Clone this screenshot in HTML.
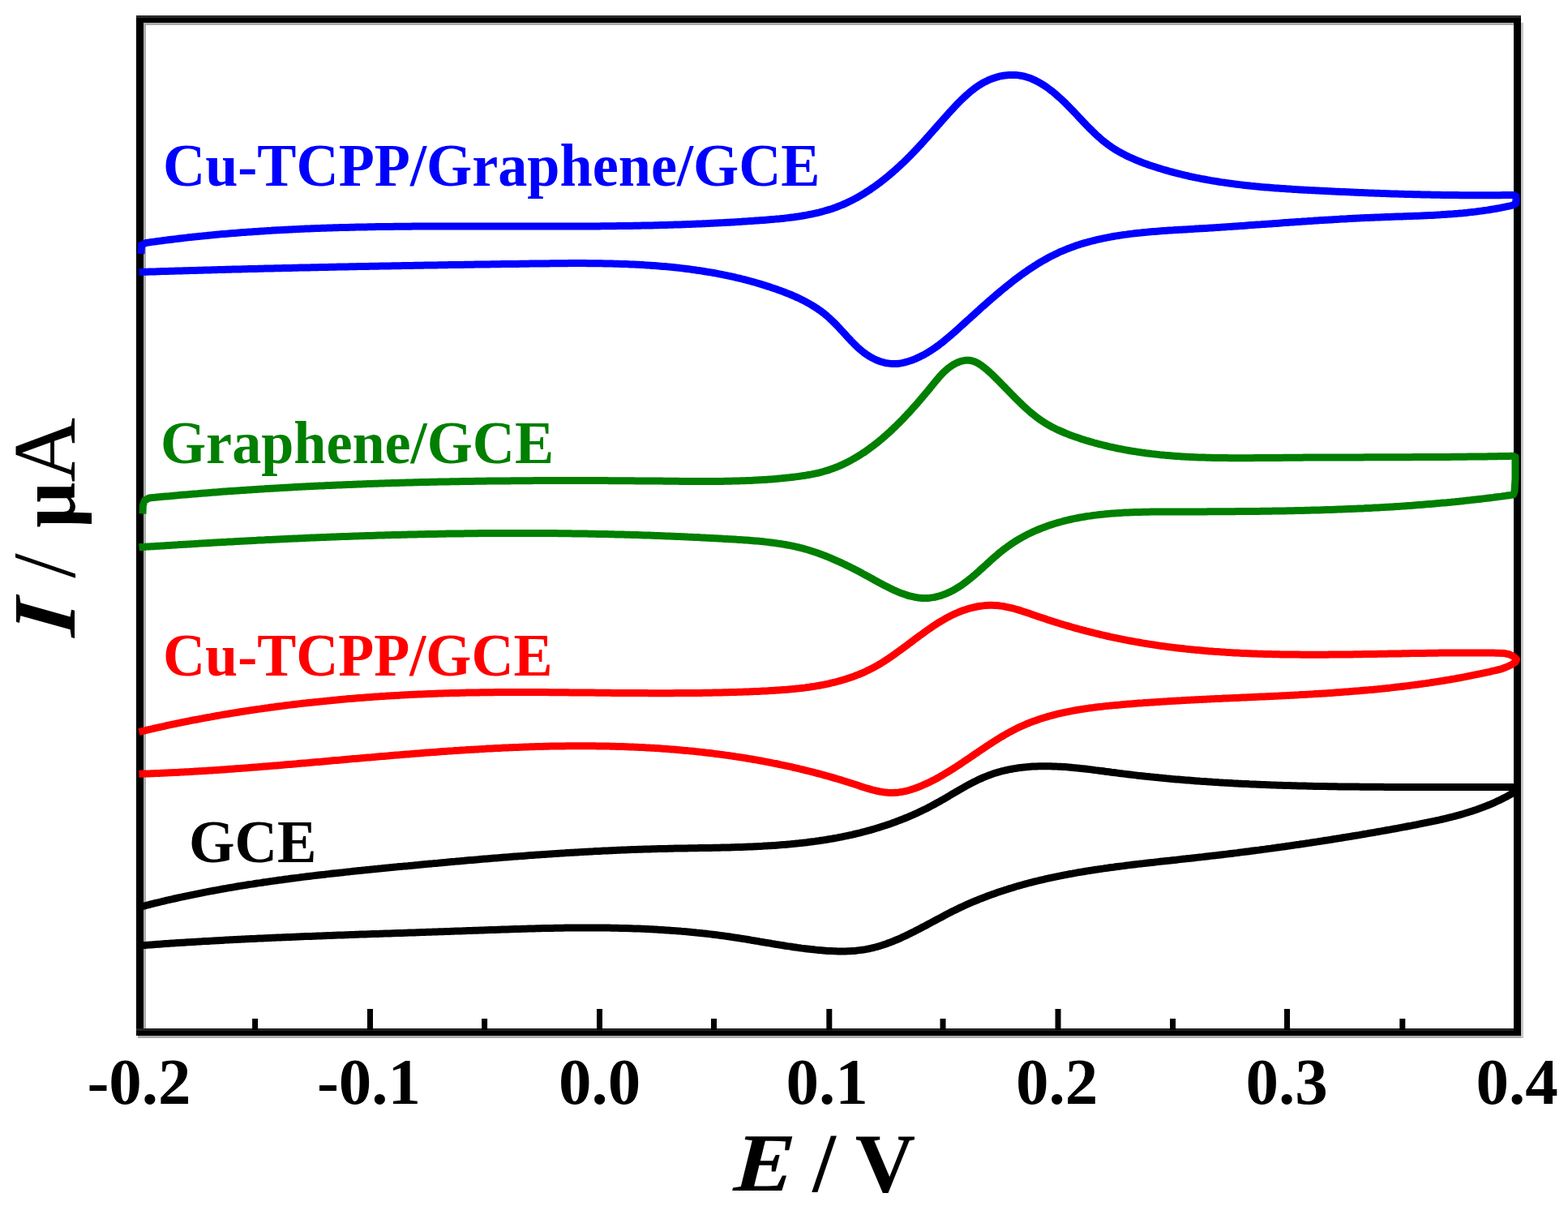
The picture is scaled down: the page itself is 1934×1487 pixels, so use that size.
<!DOCTYPE html>
<html><head><meta charset="utf-8"><title>Cyclic voltammograms</title>
<style>
html,body{margin:0;padding:0;background:#fff;}
body{width:1934px;height:1487px;overflow:hidden;}
svg{display:block;}
text{font-family:'Liberation Serif', 'Times New Roman', serif;font-weight:bold;}
</style></head>
<body>
<svg width="1934" height="1487" viewBox="0 0 1934 1487">
<rect x="0" y="0" width="1934" height="1487" fill="#ffffff"/>
<rect x="177" y="28" width="1690" height="3" fill="#ababab"/>
<rect x="177" y="28" width="3" height="1240" fill="#ababab"/>
<rect x="1876" y="28" width="3" height="1252" fill="#c8c8c8"/>
<rect x="170" y="1277" width="1706" height="3" fill="#acacac"/>
<rect x="172.5" y="23.5" width="1699" height="1249" fill="none" stroke="#000" stroke-width="9"/>
<rect x="168" y="19" width="1708" height="3" fill="#2a2a2a"/>
<rect x="168" y="1268" width="1699" height="3" fill="#222"/>
<g stroke="#000" stroke-width="7">
<line x1="456.5" y1="1244" x2="456.5" y2="1270"/><line x1="739.5" y1="1244" x2="739.5" y2="1270"/><line x1="1022.8" y1="1244" x2="1022.8" y2="1270"/><line x1="1305.0" y1="1244" x2="1305.0" y2="1270"/><line x1="1587.5" y1="1244" x2="1587.5" y2="1270"/><line x1="314.6" y1="1256" x2="314.6" y2="1270"/><line x1="597.6" y1="1256" x2="597.6" y2="1270"/><line x1="880.5" y1="1256" x2="880.5" y2="1270"/><line x1="1163.0" y1="1256" x2="1163.0" y2="1270"/><line x1="1446.5" y1="1256" x2="1446.5" y2="1270"/><line x1="1729.8" y1="1256" x2="1729.8" y2="1270"/>
</g>
<g>
<path d="M174.0,313.0 L174.5,302.0 L180.0,299.5 L182.5,299.1 L185.0,298.8 L187.4,298.4 L189.9,298.1 L192.4,297.8 L194.9,297.4 L197.4,297.1 L199.9,296.8 L202.4,296.4 L204.8,296.1 L207.3,295.8 L209.8,295.5 L212.3,295.2 L214.8,294.9 L217.3,294.6 L219.8,294.3 L222.2,294.0 L224.7,293.7 L227.2,293.4 L229.7,293.1 L232.2,292.8 L234.7,292.6 L237.2,292.3 L239.6,292.0 L242.1,291.8 L244.6,291.5 L247.1,291.2 L249.6,291.0 L252.1,290.7 L254.6,290.5 L257.1,290.2 L259.6,290.0 L262.0,289.8 L264.5,289.5 L267.0,289.3 L269.5,289.1 L272.0,288.8 L274.5,288.6 L277.0,288.4 L279.5,288.2 L282.0,288.0 L284.5,287.8 L286.9,287.6 L289.4,287.4 L291.9,287.2 L294.4,287.0 L296.9,286.8 L299.4,286.6 L301.9,286.4 L304.4,286.2 L306.9,286.0 L309.4,285.9 L311.9,285.7 L314.4,285.5 L316.9,285.4 L319.3,285.2 L321.8,285.0 L324.3,284.9 L326.8,284.7 L329.3,284.6 L331.8,284.4 L334.3,284.3 L336.8,284.1 L339.3,284.0 L341.8,283.8 L344.3,283.7 L346.8,283.6 L349.3,283.4 L351.8,283.3 L354.3,283.2 L356.8,283.0 L359.3,282.9 L361.7,282.8 L364.2,282.7 L366.7,282.6 L369.2,282.4 L371.7,282.3 L374.2,282.2 L376.7,282.1 L379.2,282.0 L381.7,281.9 L384.2,281.8 L386.7,281.7 L389.2,281.6 L391.7,281.5 L394.2,281.4 L396.7,281.3 L399.2,281.3 L401.7,281.2 L404.2,281.1 L406.7,281.0 L409.2,280.9 L411.7,280.8 L414.2,280.8 L416.7,280.7 L419.2,280.6 L421.7,280.6 L424.2,280.5 L426.7,280.4 L429.2,280.4 L431.7,280.3 L434.2,280.2 L436.7,280.2 L439.2,280.1 L441.7,280.1 L444.2,280.0 L446.7,280.0 L449.2,279.9 L451.7,279.9 L454.2,279.8 L456.7,279.8 L459.2,279.7 L461.7,279.7 L464.2,279.6 L466.7,279.6 L469.2,279.6 L471.7,279.5 L474.2,279.5 L476.7,279.5 L479.2,279.4 L481.7,279.4 L484.2,279.4 L486.7,279.3 L489.2,279.3 L491.7,279.3 L494.2,279.3 L496.7,279.2 L499.2,279.2 L501.7,279.2 L504.2,279.2 L506.7,279.2 L509.2,279.1 L511.7,279.1 L514.2,279.1 L516.7,279.1 L519.2,279.1 L521.7,279.1 L524.2,279.1 L526.7,279.0 L529.2,279.0 L531.7,279.0 L534.2,279.0 L536.7,279.0 L539.2,279.0 L541.7,279.0 L544.2,279.0 L546.7,279.0 L549.2,279.0 L551.7,279.0 L554.2,279.0 L556.7,279.0 L559.2,279.0 L561.7,279.0 L564.2,279.0 L566.7,279.0 L569.2,279.0 L571.7,279.0 L574.2,279.0 L576.7,279.0 L579.2,279.0 L581.7,279.0 L584.2,279.0 L586.8,279.0 L589.3,279.0 L591.8,279.0 L594.3,279.0 L596.8,279.0 L599.3,279.0 L601.8,279.0 L604.3,279.0 L606.8,279.0 L609.3,279.0 L611.8,279.0 L614.3,279.0 L616.8,279.0 L619.3,279.0 L621.8,279.0 L624.3,279.0 L626.8,279.1 L629.3,279.1 L631.8,279.1 L634.3,279.1 L636.8,279.1 L639.3,279.1 L641.8,279.1 L644.3,279.1 L646.8,279.1 L649.3,279.1 L651.8,279.1 L654.3,279.1 L656.8,279.1 L659.3,279.1 L661.9,279.1 L664.4,279.1 L666.9,279.1 L669.4,279.1 L671.9,279.1 L674.4,279.1 L676.9,279.1 L679.4,279.1 L681.9,279.1 L684.4,279.1 L686.9,279.1 L689.4,279.1 L691.9,279.1 L694.4,279.1 L696.9,279.1 L699.4,279.1 L701.9,279.1 L704.4,279.1 L706.9,279.1 L709.4,279.0 L711.9,279.0 L714.4,279.0 L716.9,279.0 L719.4,279.0 L721.9,279.0 L724.4,279.0 L726.9,279.0 L729.4,278.9 L731.9,278.9 L734.4,278.9 L737.0,278.9 L739.5,278.9 L742.0,278.8 L744.5,278.8 L747.0,278.8 L749.5,278.8 L752.0,278.7 L754.5,278.7 L757.0,278.7 L759.5,278.7 L762.0,278.6 L764.5,278.6 L767.0,278.6 L769.5,278.5 L772.0,278.5 L774.5,278.4 L777.0,278.4 L779.5,278.4 L782.0,278.3 L784.5,278.3 L787.0,278.2 L789.5,278.2 L792.0,278.1 L794.5,278.1 L797.0,278.0 L799.5,278.0 L802.0,277.9 L804.5,277.9 L807.0,277.8 L809.5,277.7 L812.0,277.7 L814.5,277.6 L817.0,277.5 L819.5,277.5 L822.0,277.4 L824.5,277.3 L827.0,277.3 L829.5,277.2 L832.0,277.1 L834.5,277.0 L837.0,276.9 L839.5,276.9 L842.0,276.8 L844.5,276.7 L847.0,276.6 L849.5,276.5 L852.0,276.4 L854.5,276.3 L857.0,276.2 L859.5,276.1 L862.0,276.0 L864.5,275.9 L867.0,275.8 L869.5,275.7 L872.0,275.6 L874.5,275.4 L877.0,275.3 L879.5,275.2 L882.0,275.1 L884.5,275.0 L887.0,274.8 L889.5,274.7 L892.0,274.6 L894.5,274.4 L897.0,274.3 L899.5,274.2 L902.0,274.0 L904.5,273.9 L907.0,273.7 L909.5,273.6 L912.0,273.4 L914.5,273.3 L917.0,273.1 L919.5,272.9 L922.0,272.8 L924.5,272.6 L927.0,272.4 L929.5,272.3 L932.0,272.1 L934.5,271.9 L937.0,271.7 L939.5,271.5 L942.0,271.4 L944.5,271.2 L947.0,271.0 L949.5,270.8 L952.0,270.6 L954.5,270.4 L956.9,270.1 L959.4,269.9 L961.9,269.7 L964.4,269.4 L966.9,269.2 L969.4,268.9 L971.8,268.6 L974.3,268.3 L976.8,268.0 L979.3,267.7 L981.7,267.3 L984.2,267.0 L986.6,266.6 L989.1,266.2 L991.5,265.8 L994.0,265.4 L996.4,264.9 L998.8,264.4 L1001.3,264.0 L1003.7,263.4 L1006.1,262.9 L1008.5,262.3 L1010.9,261.8 L1013.3,261.1 L1015.7,260.5 L1018.0,259.8 L1020.4,259.1 L1022.8,258.4 L1025.1,257.7 L1027.4,256.9 L1029.8,256.1 L1032.1,255.2 L1034.4,254.3 L1036.7,253.4 L1039.0,252.5 L1041.3,251.5 L1043.6,250.5 L1045.9,249.4 L1048.1,248.3 L1050.4,247.2 L1052.6,246.1 L1054.8,244.9 L1057.0,243.7 L1059.2,242.5 L1061.4,241.2 L1063.6,239.9 L1065.8,238.6 L1067.9,237.2 L1070.0,235.9 L1072.2,234.5 L1074.3,233.0 L1076.4,231.6 L1078.5,230.1 L1080.6,228.6 L1082.6,227.1 L1084.7,225.6 L1086.7,224.1 L1088.7,222.5 L1090.7,220.9 L1092.7,219.3 L1094.7,217.7 L1096.7,216.1 L1098.6,214.4 L1100.5,212.8 L1102.4,211.1 L1104.4,209.4 L1106.2,207.7 L1108.1,206.0 L1110.0,204.3 L1111.8,202.6 L1113.6,200.9 L1115.4,199.2 L1117.2,197.4 L1119.0,195.7 L1120.7,193.9 L1122.5,192.2 L1124.2,190.4 L1125.9,188.7 L1127.6,186.9 L1129.3,185.1 L1131.0,183.3 L1132.7,181.5 L1134.3,179.7 L1136.0,178.0 L1137.6,176.1 L1139.3,174.3 L1140.9,172.5 L1142.5,170.7 L1144.2,168.9 L1145.8,167.1 L1147.4,165.2 L1149.1,163.4 L1150.7,161.6 L1152.3,159.7 L1154.0,157.9 L1155.6,156.0 L1157.2,154.1 L1158.9,152.3 L1160.5,150.4 L1162.2,148.5 L1163.9,146.7 L1165.5,144.8 L1167.2,142.9 L1168.9,141.0 L1170.6,139.1 L1172.4,137.2 L1174.1,135.3 L1175.9,133.4 L1177.6,131.5 L1179.4,129.6 L1181.2,127.7 L1183.0,125.9 L1184.8,124.1 L1186.7,122.2 L1188.6,120.4 L1190.4,118.7 L1192.4,117.0 L1194.3,115.3 L1196.2,113.6 L1198.2,112.0 L1200.2,110.4 L1202.2,108.9 L1204.2,107.4 L1206.3,106.0 L1208.4,104.7 L1210.5,103.4 L1212.6,102.1 L1214.8,101.0 L1217.0,99.9 L1219.2,98.8 L1221.5,97.9 L1223.7,97.0 L1226.0,96.2 L1228.3,95.4 L1230.6,94.8 L1232.9,94.2 L1235.2,93.7 L1237.6,93.3 L1239.9,92.9 L1242.3,92.7 L1244.6,92.5 L1247.0,92.4 L1249.3,92.4 L1251.7,92.5 L1254.0,92.6 L1256.3,92.9 L1258.7,93.2 L1261.0,93.6 L1263.3,94.2 L1265.6,94.8 L1267.8,95.5 L1270.1,96.3 L1272.3,97.1 L1274.5,98.1 L1276.8,99.1 L1278.9,100.2 L1281.1,101.3 L1283.3,102.6 L1285.4,103.9 L1287.5,105.2 L1289.6,106.6 L1291.7,108.0 L1293.7,109.5 L1295.8,111.1 L1297.8,112.6 L1299.8,114.2 L1301.8,115.9 L1303.7,117.6 L1305.6,119.3 L1307.5,121.0 L1309.4,122.7 L1311.3,124.5 L1313.2,126.3 L1315.0,128.1 L1316.8,129.9 L1318.6,131.8 L1320.4,133.6 L1322.2,135.5 L1324.0,137.3 L1325.8,139.2 L1327.5,141.0 L1329.3,142.9 L1331.0,144.8 L1332.8,146.7 L1334.6,148.5 L1336.3,150.4 L1338.1,152.2 L1339.8,154.1 L1341.6,155.9 L1343.4,157.7 L1345.2,159.5 L1347.0,161.3 L1348.8,163.0 L1350.6,164.8 L1352.4,166.5 L1354.3,168.2 L1356.2,169.8 L1358.0,171.5 L1359.9,173.1 L1361.9,174.6 L1363.8,176.2 L1365.8,177.7 L1367.8,179.1 L1369.8,180.6 L1371.8,181.9 L1373.9,183.3 L1376.0,184.6 L1378.1,185.9 L1380.2,187.1 L1382.4,188.3 L1384.6,189.5 L1386.8,190.6 L1389.0,191.8 L1391.2,192.8 L1393.4,193.9 L1395.7,194.9 L1398.0,195.9 L1400.2,196.9 L1402.5,197.9 L1404.8,198.8 L1407.2,199.7 L1409.5,200.6 L1411.8,201.5 L1414.2,202.3 L1416.5,203.2 L1418.9,204.0 L1421.3,204.8 L1423.6,205.5 L1426.0,206.3 L1428.4,207.1 L1430.8,207.8 L1433.1,208.5 L1435.5,209.2 L1437.9,209.9 L1440.3,210.6 L1442.7,211.3 L1445.1,211.9 L1447.5,212.6 L1449.9,213.2 L1452.4,213.8 L1454.8,214.4 L1457.2,215.0 L1459.6,215.6 L1462.0,216.2 L1464.5,216.7 L1466.9,217.3 L1469.3,217.8 L1471.8,218.3 L1474.2,218.9 L1476.7,219.4 L1479.1,219.8 L1481.5,220.3 L1484.0,220.8 L1486.5,221.2 L1488.9,221.7 L1491.4,222.1 L1493.8,222.6 L1496.3,223.0 L1498.8,223.4 L1501.2,223.8 L1503.7,224.2 L1506.2,224.6 L1508.6,224.9 L1511.1,225.3 L1513.6,225.6 L1516.1,226.0 L1518.5,226.3 L1521.0,226.6 L1523.5,227.0 L1526.0,227.3 L1528.5,227.6 L1531.0,227.9 L1533.5,228.2 L1535.9,228.5 L1538.4,228.7 L1540.9,229.0 L1543.4,229.3 L1545.9,229.5 L1548.4,229.8 L1550.9,230.0 L1553.4,230.2 L1555.9,230.5 L1558.4,230.7 L1560.9,230.9 L1563.4,231.1 L1565.9,231.3 L1568.4,231.5 L1570.9,231.7 L1573.4,231.9 L1576.0,232.1 L1578.5,232.3 L1581.0,232.5 L1583.5,232.6 L1586.0,232.8 L1588.5,233.0 L1591.0,233.1 L1593.5,233.3 L1596.0,233.4 L1598.5,233.6 L1601.0,233.7 L1603.5,233.9 L1606.1,234.0 L1608.6,234.2 L1611.1,234.3 L1613.6,234.4 L1616.1,234.6 L1618.6,234.7 L1621.1,234.8 L1623.6,235.0 L1626.1,235.1 L1628.6,235.2 L1631.1,235.3 L1633.6,235.5 L1636.1,235.6 L1638.6,235.7 L1641.2,235.8 L1643.7,235.9 L1646.2,236.1 L1648.7,236.2 L1651.2,236.3 L1653.7,236.4 L1656.2,236.5 L1658.7,236.6 L1661.2,236.7 L1663.7,236.8 L1666.1,237.0 L1668.6,237.1 L1671.1,237.2 L1673.6,237.3 L1676.1,237.4 L1678.6,237.5 L1681.1,237.6 L1683.6,237.7 L1686.1,237.8 L1688.6,237.9 L1691.1,238.0 L1693.6,238.1 L1696.1,238.2 L1698.6,238.2 L1701.1,238.3 L1703.6,238.4 L1706.1,238.5 L1708.5,238.6 L1711.0,238.7 L1713.5,238.8 L1716.0,238.9 L1718.5,238.9 L1721.0,239.0 L1723.5,239.1 L1726.0,239.2 L1728.5,239.2 L1731.0,239.3 L1733.5,239.4 L1735.9,239.5 L1738.4,239.5 L1740.9,239.6 L1743.4,239.7 L1745.9,239.7 L1748.4,239.8 L1750.9,239.8 L1753.4,239.9 L1755.9,240.0 L1758.4,240.0 L1760.9,240.1 L1763.4,240.1 L1765.8,240.2 L1768.3,240.2 L1770.8,240.3 L1773.3,240.3 L1775.8,240.3 L1778.3,240.4 L1780.8,240.4 L1783.3,240.5 L1785.8,240.5 L1788.3,240.5 L1790.8,240.6 L1793.3,240.6 L1795.8,240.6 L1798.3,240.6 L1800.8,240.7 L1803.3,240.7 L1805.8,240.7 L1808.3,240.7 L1810.8,240.7 L1813.3,240.7 L1815.8,240.8 L1818.3,240.8 L1820.8,240.8 L1823.3,240.8 L1825.8,240.8 L1828.3,240.8 L1830.8,240.8 L1833.3,240.8 L1835.8,240.8 L1838.3,240.8 L1840.9,240.7 L1843.4,240.7 L1845.9,240.7 L1848.4,240.7 L1850.9,240.7 L1853.4,240.6 L1855.9,240.6 L1858.4,240.6 L1861.0,240.6 L1863.5,240.5 L1866.0,240.5 L1869.5,241.5 L1870.0,246.0 L1869.5,251.0 L1866.0,253.0 L1863.6,253.6 L1861.2,254.1 L1858.7,254.6 L1856.3,255.1 L1853.9,255.6 L1851.4,256.1 L1849.0,256.6 L1846.6,257.0 L1844.1,257.5 L1841.7,257.9 L1839.2,258.3 L1836.7,258.7 L1834.3,259.1 L1831.8,259.4 L1829.4,259.8 L1826.9,260.1 L1824.4,260.4 L1821.9,260.8 L1819.5,261.1 L1817.0,261.4 L1814.5,261.6 L1812.0,261.9 L1809.5,262.2 L1807.0,262.4 L1804.5,262.7 L1802.1,262.9 L1799.6,263.1 L1797.1,263.4 L1794.6,263.6 L1792.1,263.8 L1789.6,263.9 L1787.1,264.1 L1784.6,264.3 L1782.0,264.5 L1779.5,264.6 L1777.0,264.8 L1774.5,264.9 L1772.0,265.1 L1769.5,265.2 L1767.0,265.4 L1764.5,265.5 L1761.9,265.6 L1759.4,265.7 L1756.9,265.8 L1754.4,265.9 L1751.9,266.1 L1749.4,266.2 L1746.8,266.3 L1744.3,266.3 L1741.8,266.4 L1739.3,266.5 L1736.8,266.6 L1734.3,266.7 L1731.7,266.8 L1729.2,266.9 L1726.7,267.0 L1724.2,267.1 L1721.7,267.1 L1719.2,267.2 L1716.7,267.3 L1714.1,267.4 L1711.6,267.5 L1709.1,267.6 L1706.6,267.7 L1704.1,267.8 L1701.6,267.9 L1699.1,268.0 L1696.6,268.1 L1694.1,268.2 L1691.6,268.3 L1689.1,268.4 L1686.6,268.5 L1684.1,268.6 L1681.6,268.7 L1679.1,268.8 L1676.6,269.0 L1674.1,269.1 L1671.6,269.2 L1669.1,269.3 L1666.6,269.5 L1664.2,269.6 L1661.7,269.7 L1659.2,269.9 L1656.7,270.0 L1654.2,270.1 L1651.7,270.3 L1649.2,270.4 L1646.8,270.6 L1644.3,270.7 L1641.8,270.9 L1639.3,271.0 L1636.8,271.2 L1634.4,271.3 L1631.9,271.5 L1629.4,271.6 L1626.9,271.8 L1624.4,272.0 L1622.0,272.1 L1619.5,272.3 L1617.0,272.4 L1614.5,272.6 L1612.1,272.8 L1609.6,272.9 L1607.1,273.1 L1604.6,273.3 L1602.2,273.4 L1599.7,273.6 L1597.2,273.8 L1594.7,274.0 L1592.3,274.1 L1589.8,274.3 L1587.3,274.5 L1584.8,274.6 L1582.3,274.8 L1579.9,275.0 L1577.4,275.2 L1574.9,275.4 L1572.4,275.5 L1570.0,275.7 L1567.5,275.9 L1565.0,276.1 L1562.5,276.2 L1560.0,276.4 L1557.6,276.6 L1555.1,276.8 L1552.6,276.9 L1550.1,277.1 L1547.6,277.3 L1545.1,277.5 L1542.7,277.6 L1540.2,277.8 L1537.7,278.0 L1535.2,278.2 L1532.7,278.4 L1530.2,278.5 L1527.7,278.7 L1525.2,278.9 L1522.7,279.0 L1520.2,279.2 L1517.7,279.4 L1515.2,279.6 L1512.7,279.7 L1510.2,279.9 L1507.7,280.1 L1505.2,280.2 L1502.7,280.4 L1500.2,280.6 L1497.7,280.7 L1495.2,280.9 L1492.7,281.0 L1490.2,281.2 L1487.7,281.4 L1485.2,281.5 L1482.6,281.7 L1480.1,281.8 L1477.6,282.0 L1475.1,282.1 L1472.6,282.3 L1470.0,282.4 L1467.5,282.6 L1465.0,282.7 L1462.4,282.9 L1459.9,283.0 L1457.4,283.2 L1454.8,283.3 L1452.3,283.5 L1449.8,283.6 L1447.2,283.8 L1444.7,283.9 L1442.2,284.1 L1439.6,284.3 L1437.1,284.5 L1434.6,284.6 L1432.0,284.8 L1429.5,285.0 L1427.0,285.2 L1424.5,285.4 L1421.9,285.6 L1419.4,285.8 L1416.9,286.0 L1414.4,286.3 L1411.9,286.5 L1409.4,286.7 L1406.8,287.0 L1404.3,287.2 L1401.8,287.5 L1399.3,287.8 L1396.8,288.1 L1394.3,288.4 L1391.8,288.7 L1389.4,289.1 L1386.9,289.4 L1384.4,289.7 L1381.9,290.1 L1379.5,290.5 L1377.0,290.9 L1374.5,291.3 L1372.1,291.7 L1369.6,292.2 L1367.2,292.6 L1364.8,293.1 L1362.3,293.6 L1359.9,294.1 L1357.5,294.6 L1355.1,295.1 L1352.7,295.7 L1350.3,296.3 L1347.9,296.9 L1345.5,297.5 L1343.1,298.1 L1340.8,298.8 L1338.4,299.4 L1336.0,300.1 L1333.7,300.8 L1331.4,301.6 L1329.0,302.3 L1326.7,303.1 L1324.4,303.9 L1322.1,304.7 L1319.8,305.6 L1317.5,306.5 L1315.2,307.4 L1313.0,308.3 L1310.7,309.3 L1308.5,310.2 L1306.2,311.2 L1304.0,312.3 L1301.8,313.3 L1299.6,314.4 L1297.4,315.5 L1295.2,316.6 L1293.0,317.8 L1290.9,319.0 L1288.7,320.2 L1286.6,321.4 L1284.4,322.6 L1282.3,323.9 L1280.2,325.2 L1278.1,326.5 L1276.0,327.8 L1273.9,329.2 L1271.8,330.6 L1269.7,331.9 L1267.6,333.3 L1265.6,334.8 L1263.5,336.2 L1261.5,337.7 L1259.4,339.1 L1257.4,340.6 L1255.4,342.1 L1253.3,343.7 L1251.3,345.2 L1249.3,346.7 L1247.3,348.3 L1245.3,349.9 L1243.3,351.5 L1241.4,353.0 L1239.4,354.7 L1237.4,356.3 L1235.4,357.9 L1233.5,359.5 L1231.5,361.2 L1229.6,362.8 L1227.6,364.5 L1225.7,366.2 L1223.7,367.8 L1221.8,369.5 L1219.8,371.2 L1217.9,372.9 L1216.0,374.6 L1214.1,376.3 L1212.1,378.0 L1210.2,379.7 L1208.3,381.4 L1206.4,383.2 L1204.5,384.9 L1202.6,386.6 L1200.7,388.3 L1198.8,390.0 L1196.9,391.8 L1195.0,393.5 L1193.1,395.2 L1191.2,396.9 L1189.3,398.6 L1187.4,400.3 L1185.5,402.0 L1183.6,403.8 L1181.8,405.5 L1179.9,407.1 L1178.0,408.8 L1176.1,410.5 L1174.2,412.2 L1172.3,413.8 L1170.4,415.4 L1168.5,417.0 L1166.5,418.6 L1164.6,420.2 L1162.7,421.8 L1160.7,423.3 L1158.8,424.8 L1156.8,426.3 L1154.8,427.7 L1152.8,429.1 L1150.8,430.5 L1148.8,431.8 L1146.7,433.2 L1144.6,434.4 L1142.6,435.7 L1140.5,436.9 L1138.4,438.0 L1136.2,439.1 L1134.1,440.2 L1131.9,441.2 L1129.7,442.2 L1127.4,443.1 L1125.2,444.0 L1122.9,444.8 L1120.6,445.5 L1118.2,446.2 L1115.9,446.8 L1113.5,447.4 L1111.1,447.9 L1108.7,448.2 L1106.2,448.5 L1103.8,448.6 L1101.3,448.5 L1098.9,448.4 L1096.4,448.1 L1094.0,447.8 L1091.6,447.3 L1089.2,446.7 L1086.8,446.0 L1084.4,445.2 L1082.1,444.3 L1079.8,443.3 L1077.5,442.2 L1075.3,441.1 L1073.2,439.9 L1071.1,438.6 L1069.0,437.2 L1067.0,435.8 L1065.0,434.3 L1063.0,432.7 L1061.1,431.1 L1059.2,429.5 L1057.3,427.8 L1055.5,426.0 L1053.7,424.2 L1051.9,422.4 L1050.1,420.6 L1048.3,418.7 L1046.6,416.9 L1044.8,415.0 L1043.1,413.1 L1041.3,411.1 L1039.6,409.2 L1037.8,407.3 L1036.1,405.4 L1034.3,403.5 L1032.6,401.7 L1030.8,399.8 L1029.0,398.0 L1027.2,396.2 L1025.3,394.4 L1023.5,392.7 L1021.6,391.0 L1019.7,389.3 L1017.8,387.7 L1015.8,386.1 L1013.8,384.6 L1011.8,383.1 L1009.7,381.7 L1007.7,380.3 L1005.6,378.9 L1003.5,377.6 L1001.4,376.3 L999.2,375.0 L997.1,373.8 L994.9,372.6 L992.7,371.4 L990.5,370.3 L988.2,369.2 L986.0,368.1 L983.7,367.0 L981.4,366.0 L979.2,365.0 L976.9,364.0 L974.6,363.0 L972.3,362.1 L969.9,361.2 L967.6,360.3 L965.3,359.4 L962.9,358.5 L960.6,357.7 L958.2,356.8 L955.9,356.0 L953.5,355.2 L951.2,354.4 L948.8,353.6 L946.4,352.9 L944.1,352.1 L941.7,351.4 L939.3,350.6 L936.9,349.9 L934.6,349.2 L932.2,348.5 L929.8,347.8 L927.4,347.2 L925.0,346.5 L922.6,345.9 L920.2,345.2 L917.8,344.6 L915.4,344.0 L913.0,343.4 L910.6,342.8 L908.2,342.3 L905.8,341.7 L903.4,341.2 L900.9,340.6 L898.5,340.1 L896.1,339.6 L893.7,339.1 L891.2,338.6 L888.8,338.1 L886.4,337.7 L883.9,337.2 L881.5,336.7 L879.1,336.3 L876.6,335.9 L874.2,335.5 L871.7,335.1 L869.3,334.7 L866.8,334.3 L864.4,333.9 L861.9,333.5 L859.5,333.2 L857.0,332.8 L854.5,332.5 L852.1,332.1 L849.6,331.8 L847.1,331.5 L844.7,331.2 L842.2,330.9 L839.7,330.6 L837.3,330.3 L834.8,330.1 L832.3,329.8 L829.8,329.5 L827.4,329.3 L824.9,329.1 L822.4,328.8 L819.9,328.6 L817.4,328.4 L814.9,328.2 L812.4,328.0 L809.9,327.8 L807.5,327.6 L805.0,327.4 L802.5,327.2 L800.0,327.1 L797.5,326.9 L795.0,326.8 L792.5,326.6 L790.0,326.5 L787.5,326.3 L785.0,326.2 L782.5,326.1 L780.0,326.0 L777.5,325.9 L774.9,325.7 L772.4,325.6 L769.9,325.6 L767.4,325.5 L764.9,325.4 L762.4,325.3 L759.9,325.2 L757.4,325.2 L754.9,325.1 L752.3,325.0 L749.8,325.0 L747.3,324.9 L744.8,324.9 L742.3,324.8 L739.8,324.8 L737.2,324.8 L734.7,324.7 L732.2,324.7 L729.7,324.7 L727.2,324.7 L724.6,324.7 L722.1,324.6 L719.6,324.6 L717.1,324.6 L714.6,324.6 L712.0,324.6 L709.5,324.6 L707.0,324.6 L704.5,324.6 L701.9,324.6 L699.4,324.7 L696.9,324.7 L694.4,324.7 L691.9,324.7 L689.3,324.7 L686.8,324.8 L684.3,324.8 L681.8,324.8 L679.2,324.8 L676.7,324.9 L674.2,324.9 L671.7,324.9 L669.2,324.9 L666.6,325.0 L664.1,325.0 L661.6,325.0 L659.1,325.1 L656.6,325.1 L654.1,325.1 L651.5,325.2 L649.0,325.2 L646.5,325.3 L644.0,325.3 L641.5,325.3 L639.0,325.4 L636.4,325.4 L633.9,325.4 L631.4,325.5 L628.9,325.5 L626.4,325.5 L623.9,325.6 L621.4,325.6 L618.9,325.6 L616.3,325.7 L613.8,325.7 L611.3,325.8 L608.8,325.8 L606.3,325.8 L603.8,325.9 L601.3,325.9 L598.8,325.9 L596.3,326.0 L593.8,326.0 L591.3,326.1 L588.8,326.1 L586.3,326.1 L583.8,326.2 L581.3,326.2 L578.7,326.2 L576.2,326.3 L573.7,326.3 L571.2,326.4 L568.7,326.4 L566.2,326.4 L563.7,326.5 L561.2,326.5 L558.7,326.6 L556.2,326.6 L553.7,326.6 L551.2,326.7 L548.7,326.7 L546.2,326.8 L543.7,326.8 L541.2,326.8 L538.7,326.9 L536.2,326.9 L533.7,327.0 L531.2,327.0 L528.7,327.0 L526.2,327.1 L523.8,327.1 L521.3,327.2 L518.8,327.2 L516.3,327.3 L513.8,327.3 L511.3,327.3 L508.8,327.4 L506.3,327.4 L503.8,327.5 L501.3,327.5 L498.8,327.6 L496.3,327.6 L493.8,327.7 L491.3,327.7 L488.8,327.7 L486.3,327.8 L483.8,327.8 L481.3,327.9 L478.8,327.9 L476.4,328.0 L473.9,328.0 L471.4,328.1 L468.9,328.1 L466.4,328.2 L463.9,328.2 L461.4,328.2 L458.9,328.3 L456.4,328.3 L453.9,328.4 L451.4,328.4 L448.9,328.5 L446.4,328.5 L444.0,328.6 L441.5,328.6 L439.0,328.7 L436.5,328.7 L434.0,328.8 L431.5,328.8 L429.0,328.9 L426.5,328.9 L424.0,329.0 L421.5,329.0 L419.0,329.1 L416.6,329.1 L414.1,329.2 L411.6,329.2 L409.1,329.3 L406.6,329.3 L404.1,329.4 L401.6,329.4 L399.1,329.5 L396.6,329.5 L394.1,329.6 L391.6,329.7 L389.1,329.7 L386.7,329.8 L384.2,329.8 L381.7,329.9 L379.2,329.9 L376.7,330.0 L374.2,330.0 L371.7,330.1 L369.2,330.1 L366.7,330.2 L364.2,330.3 L361.7,330.3 L359.2,330.4 L356.7,330.4 L354.3,330.5 L351.8,330.5 L349.3,330.6 L346.8,330.7 L344.3,330.7 L341.8,330.8 L339.3,330.8 L336.8,330.9 L334.3,331.0 L331.8,331.0 L329.3,331.1 L326.8,331.1 L324.3,331.2 L321.8,331.3 L319.3,331.3 L316.8,331.4 L314.3,331.4 L311.8,331.5 L309.4,331.6 L306.9,331.6 L304.4,331.7 L301.9,331.8 L299.4,331.8 L296.9,331.9 L294.4,332.0 L291.9,332.0 L289.4,332.1 L286.9,332.1 L284.4,332.2 L281.9,332.3 L279.4,332.3 L276.9,332.4 L274.4,332.5 L271.9,332.5 L269.4,332.6 L266.9,332.7 L264.4,332.7 L261.9,332.8 L259.4,332.9 L256.9,333.0 L254.4,333.0 L251.9,333.1 L249.3,333.2 L246.8,333.2 L244.3,333.3 L241.8,333.4 L239.3,333.4 L236.8,333.5 L234.3,333.6 L231.8,333.7 L229.3,333.7 L226.8,333.8 L224.3,333.9 L221.8,334.0 L219.3,334.0 L216.8,334.1 L214.2,334.2 L211.7,334.3 L209.2,334.3 L206.7,334.4 L204.2,334.5 L201.7,334.6 L199.2,334.6 L196.7,334.7 L194.1,334.8 L191.6,334.9 L189.1,334.9 L186.6,335.0 L184.1,335.1 L181.6,335.2 L179.1,335.3 L176.5,335.3 L174.0,335.4 L171.5,335.5" fill="none" stroke="#0000ff" stroke-width="9" stroke-linejoin="round" stroke-linecap="butt"/>
<path d="M176.0,633.5 L176.3,623.0 L178.5,617.0 L184.0,614.0 L186.5,613.7 L189.0,613.5 L191.5,613.3 L194.0,613.0 L196.4,612.8 L198.9,612.6 L201.4,612.3 L203.9,612.1 L206.4,611.9 L208.9,611.7 L211.4,611.4 L213.9,611.2 L216.4,611.0 L218.8,610.8 L221.3,610.5 L223.8,610.3 L226.3,610.1 L228.8,609.9 L231.3,609.7 L233.8,609.5 L236.3,609.3 L238.8,609.1 L241.3,608.9 L243.7,608.7 L246.2,608.4 L248.7,608.2 L251.2,608.0 L253.7,607.9 L256.2,607.7 L258.7,607.5 L261.2,607.3 L263.7,607.1 L266.2,606.9 L268.7,606.7 L271.2,606.5 L273.7,606.3 L276.1,606.1 L278.6,606.0 L281.1,605.8 L283.6,605.6 L286.1,605.4 L288.6,605.2 L291.1,605.1 L293.6,604.9 L296.1,604.7 L298.6,604.5 L301.1,604.4 L303.6,604.2 L306.1,604.0 L308.6,603.9 L311.1,603.7 L313.6,603.6 L316.0,603.4 L318.5,603.2 L321.0,603.1 L323.5,602.9 L326.0,602.8 L328.5,602.6 L331.0,602.5 L333.5,602.3 L336.0,602.2 L338.5,602.0 L341.0,601.9 L343.5,601.7 L346.0,601.6 L348.5,601.4 L351.0,601.3 L353.5,601.2 L356.0,601.0 L358.5,600.9 L361.0,600.7 L363.5,600.6 L366.0,600.5 L368.5,600.3 L371.0,600.2 L373.5,600.1 L376.0,600.0 L378.4,599.8 L380.9,599.7 L383.4,599.6 L385.9,599.5 L388.4,599.3 L390.9,599.2 L393.4,599.1 L395.9,599.0 L398.4,598.9 L400.9,598.7 L403.4,598.6 L405.9,598.5 L408.4,598.4 L410.9,598.3 L413.4,598.2 L415.9,598.1 L418.4,598.0 L420.9,597.9 L423.4,597.8 L425.9,597.7 L428.4,597.6 L430.9,597.5 L433.4,597.4 L435.9,597.3 L438.4,597.2 L440.9,597.1 L443.4,597.0 L445.9,596.9 L448.4,596.8 L450.9,596.7 L453.4,596.6 L455.9,596.5 L458.4,596.4 L460.9,596.3 L463.4,596.2 L465.9,596.2 L468.4,596.1 L470.9,596.0 L473.4,595.9 L475.9,595.8 L478.4,595.8 L480.9,595.7 L483.4,595.6 L485.9,595.5 L488.4,595.5 L490.9,595.4 L493.4,595.3 L495.9,595.2 L498.4,595.2 L500.9,595.1 L503.4,595.0 L505.9,595.0 L508.4,594.9 L510.9,594.8 L513.4,594.8 L515.9,594.7 L518.4,594.6 L520.9,594.6 L523.4,594.5 L525.9,594.5 L528.4,594.4 L530.9,594.3 L533.4,594.3 L535.9,594.2 L538.4,594.2 L540.9,594.1 L543.4,594.1 L545.9,594.0 L548.5,594.0 L551.0,593.9 L553.5,593.9 L556.0,593.8 L558.5,593.8 L561.0,593.7 L563.5,593.7 L566.0,593.7 L568.5,593.6 L571.0,593.6 L573.5,593.5 L576.0,593.5 L578.5,593.4 L581.0,593.4 L583.5,593.4 L586.0,593.3 L588.5,593.3 L591.0,593.3 L593.5,593.2 L596.0,593.2 L598.5,593.2 L601.0,593.1 L603.5,593.1 L606.0,593.1 L608.5,593.0 L611.0,593.0 L613.5,593.0 L616.0,593.0 L618.5,592.9 L621.0,592.9 L623.5,592.9 L626.0,592.9 L628.6,592.9 L631.1,592.8 L633.6,592.8 L636.1,592.8 L638.6,592.8 L641.1,592.8 L643.6,592.7 L646.1,592.7 L648.6,592.7 L651.1,592.7 L653.6,592.7 L656.1,592.7 L658.6,592.6 L661.1,592.6 L663.6,592.6 L666.1,592.6 L668.6,592.6 L671.1,592.6 L673.6,592.6 L676.1,592.6 L678.6,592.6 L681.1,592.6 L683.6,592.6 L686.1,592.6 L688.6,592.6 L691.2,592.6 L693.7,592.5 L696.2,592.5 L698.7,592.5 L701.2,592.5 L703.7,592.5 L706.2,592.5 L708.7,592.5 L711.2,592.5 L713.7,592.5 L716.2,592.6 L718.7,592.6 L721.2,592.6 L723.7,592.6 L726.2,592.6 L728.7,592.6 L731.2,592.6 L733.7,592.6 L736.2,592.6 L738.7,592.6 L741.2,592.6 L743.7,592.6 L746.3,592.6 L748.8,592.6 L751.3,592.7 L753.8,592.7 L756.3,592.7 L758.8,592.7 L761.3,592.7 L763.8,592.7 L766.3,592.7 L768.8,592.8 L771.3,592.8 L773.8,592.8 L776.3,592.8 L778.8,592.8 L781.3,592.8 L783.8,592.9 L786.3,592.9 L788.8,592.9 L791.3,592.9 L793.8,592.9 L796.3,593.0 L798.8,593.0 L801.4,593.0 L803.9,593.0 L806.4,593.0 L808.9,593.1 L811.4,593.1 L813.9,593.1 L816.4,593.1 L818.9,593.2 L821.4,593.2 L823.9,593.2 L826.4,593.2 L828.9,593.3 L831.4,593.3 L833.9,593.3 L836.4,593.3 L838.9,593.4 L841.4,593.4 L843.9,593.4 L846.4,593.4 L848.9,593.4 L851.4,593.5 L853.9,593.5 L856.4,593.5 L858.9,593.5 L861.4,593.5 L864.0,593.5 L866.5,593.5 L869.0,593.5 L871.5,593.5 L874.0,593.5 L876.5,593.5 L879.0,593.5 L881.5,593.5 L884.0,593.4 L886.5,593.4 L889.0,593.4 L891.5,593.4 L894.0,593.3 L896.5,593.3 L899.0,593.2 L901.5,593.2 L904.0,593.1 L906.5,593.1 L909.0,593.0 L911.5,592.9 L914.0,592.8 L916.5,592.8 L919.0,592.7 L921.4,592.6 L923.9,592.5 L926.4,592.4 L928.9,592.2 L931.4,592.1 L933.9,592.0 L936.4,591.8 L938.9,591.7 L941.4,591.5 L943.9,591.4 L946.4,591.2 L948.9,591.0 L951.4,590.9 L953.9,590.7 L956.4,590.5 L958.8,590.2 L961.3,590.0 L963.8,589.8 L966.3,589.5 L968.8,589.3 L971.3,589.0 L973.8,588.8 L976.3,588.5 L978.7,588.2 L981.2,587.9 L983.7,587.6 L986.2,587.3 L988.7,586.9 L991.1,586.5 L993.6,586.2 L996.1,585.7 L998.5,585.3 L1000.9,584.9 L1003.4,584.4 L1005.8,583.9 L1008.2,583.3 L1010.6,582.8 L1013.0,582.2 L1015.4,581.5 L1017.8,580.8 L1020.1,580.1 L1022.5,579.4 L1024.8,578.6 L1027.1,577.8 L1029.4,576.9 L1031.7,576.0 L1034.0,575.1 L1036.2,574.1 L1038.5,573.1 L1040.7,572.1 L1042.9,571.0 L1045.1,569.9 L1047.3,568.8 L1049.5,567.6 L1051.7,566.4 L1053.8,565.2 L1056.0,563.9 L1058.1,562.7 L1060.2,561.3 L1062.3,560.0 L1064.4,558.6 L1066.5,557.3 L1068.5,555.8 L1070.6,554.4 L1072.6,552.9 L1074.6,551.4 L1076.7,549.9 L1078.7,548.4 L1080.6,546.8 L1082.6,545.3 L1084.6,543.7 L1086.5,542.0 L1088.5,540.4 L1090.4,538.7 L1092.3,537.1 L1094.2,535.4 L1096.1,533.7 L1098.0,531.9 L1099.9,530.2 L1101.7,528.4 L1103.6,526.7 L1105.4,524.9 L1107.2,523.1 L1109.1,521.3 L1110.9,519.4 L1112.7,517.6 L1114.4,515.8 L1116.2,513.9 L1118.0,512.0 L1119.7,510.2 L1121.5,508.3 L1123.2,506.4 L1124.9,504.5 L1126.6,502.6 L1128.3,500.7 L1130.0,498.8 L1131.7,496.9 L1133.4,494.9 L1135.0,493.0 L1136.7,491.1 L1138.3,489.1 L1139.9,487.2 L1141.6,485.3 L1143.2,483.3 L1144.8,481.4 L1146.4,479.5 L1147.9,477.5 L1149.5,475.6 L1151.1,473.7 L1152.6,471.8 L1154.2,469.9 L1155.8,468.0 L1157.4,466.1 L1159.0,464.3 L1160.6,462.5 L1162.2,460.7 L1163.9,459.0 L1165.7,457.4 L1167.5,455.8 L1169.3,454.2 L1171.2,452.7 L1173.2,451.4 L1175.2,450.0 L1177.4,448.8 L1179.6,447.7 L1181.8,446.7 L1184.1,445.8 L1186.5,445.1 L1188.8,444.6 L1191.1,444.2 L1193.5,444.2 L1195.7,444.3 L1198.0,444.7 L1200.2,445.3 L1202.4,446.1 L1204.5,447.0 L1206.6,448.1 L1208.7,449.4 L1210.8,450.8 L1212.8,452.3 L1214.8,453.9 L1216.8,455.5 L1218.7,457.3 L1220.7,459.0 L1222.6,460.8 L1224.5,462.6 L1226.4,464.4 L1228.2,466.2 L1230.1,468.1 L1231.9,469.9 L1233.7,471.7 L1235.5,473.6 L1237.3,475.4 L1239.1,477.2 L1240.9,479.1 L1242.7,480.9 L1244.5,482.7 L1246.2,484.6 L1248.0,486.4 L1249.8,488.2 L1251.5,490.0 L1253.3,491.8 L1255.1,493.5 L1256.9,495.3 L1258.7,497.0 L1260.5,498.8 L1262.3,500.5 L1264.1,502.2 L1265.9,503.8 L1267.8,505.5 L1269.6,507.1 L1271.5,508.7 L1273.4,510.3 L1275.3,511.8 L1277.2,513.4 L1279.2,514.8 L1281.2,516.3 L1283.2,517.7 L1285.2,519.1 L1287.3,520.5 L1289.3,521.8 L1291.5,523.0 L1293.6,524.3 L1295.8,525.5 L1298.0,526.7 L1300.2,527.8 L1302.4,528.9 L1304.7,530.0 L1307.0,531.0 L1309.3,532.0 L1311.6,533.0 L1313.9,534.0 L1316.2,534.9 L1318.6,535.9 L1320.9,536.7 L1323.3,537.6 L1325.7,538.5 L1328.1,539.3 L1330.5,540.1 L1332.9,540.9 L1335.3,541.7 L1337.7,542.4 L1340.1,543.2 L1342.5,543.9 L1344.9,544.6 L1347.3,545.3 L1349.7,546.0 L1352.1,546.6 L1354.5,547.3 L1357.0,547.9 L1359.4,548.5 L1361.8,549.1 L1364.2,549.7 L1366.7,550.3 L1369.1,550.9 L1371.5,551.4 L1374.0,551.9 L1376.4,552.5 L1378.9,553.0 L1381.3,553.4 L1383.7,553.9 L1386.2,554.4 L1388.6,554.8 L1391.1,555.3 L1393.6,555.7 L1396.0,556.1 L1398.5,556.5 L1400.9,556.9 L1403.4,557.3 L1405.9,557.6 L1408.3,558.0 L1410.8,558.3 L1413.3,558.7 L1415.7,559.0 L1418.2,559.3 L1420.7,559.6 L1423.2,559.9 L1425.6,560.1 L1428.1,560.4 L1430.6,560.7 L1433.1,560.9 L1435.6,561.1 L1438.0,561.4 L1440.5,561.6 L1443.0,561.8 L1445.5,562.0 L1448.0,562.2 L1450.5,562.4 L1453.0,562.5 L1455.5,562.7 L1458.0,562.9 L1460.5,563.0 L1463.0,563.2 L1465.5,563.3 L1468.0,563.4 L1470.4,563.5 L1473.0,563.7 L1475.5,563.8 L1478.0,563.9 L1480.5,564.0 L1483.0,564.0 L1485.5,564.1 L1488.0,564.2 L1490.5,564.3 L1493.0,564.3 L1495.5,564.4 L1498.0,564.4 L1500.5,564.5 L1503.0,564.5 L1505.5,564.6 L1508.0,564.6 L1510.6,564.6 L1513.1,564.6 L1515.6,564.7 L1518.1,564.7 L1520.6,564.7 L1523.1,564.7 L1525.6,564.7 L1528.1,564.7 L1530.7,564.7 L1533.2,564.7 L1535.7,564.7 L1538.2,564.7 L1540.7,564.7 L1543.2,564.7 L1545.7,564.7 L1548.3,564.6 L1550.8,564.6 L1553.3,564.6 L1555.8,564.6 L1558.3,564.6 L1560.8,564.5 L1563.3,564.5 L1565.8,564.5 L1568.4,564.5 L1570.9,564.5 L1573.4,564.4 L1575.9,564.4 L1578.4,564.4 L1580.9,564.4 L1583.4,564.3 L1585.9,564.3 L1588.4,564.3 L1590.9,564.3 L1593.5,564.3 L1596.0,564.2 L1598.5,564.2 L1601.0,564.2 L1603.5,564.2 L1606.0,564.2 L1608.5,564.1 L1611.0,564.1 L1613.5,564.1 L1616.0,564.1 L1618.5,564.1 L1621.0,564.1 L1623.5,564.1 L1626.0,564.1 L1628.5,564.0 L1631.0,564.0 L1633.5,564.0 L1636.0,564.0 L1638.5,564.0 L1641.0,564.0 L1643.5,564.0 L1646.0,564.0 L1648.5,564.0 L1651.0,563.9 L1653.5,563.9 L1656.0,563.9 L1658.5,563.9 L1661.0,563.9 L1663.5,563.9 L1666.0,563.9 L1668.5,563.9 L1671.0,563.9 L1673.5,563.9 L1676.0,563.9 L1678.5,563.9 L1681.0,563.9 L1683.5,563.8 L1686.0,563.8 L1688.5,563.8 L1691.0,563.8 L1693.5,563.8 L1696.0,563.8 L1698.5,563.8 L1701.0,563.8 L1703.5,563.8 L1706.0,563.8 L1708.5,563.8 L1711.0,563.8 L1713.5,563.8 L1715.9,563.7 L1718.4,563.7 L1720.9,563.7 L1723.4,563.7 L1725.9,563.7 L1728.4,563.7 L1730.9,563.7 L1733.4,563.7 L1735.9,563.7 L1738.4,563.7 L1740.9,563.7 L1743.4,563.6 L1745.9,563.6 L1748.4,563.6 L1750.9,563.6 L1753.4,563.6 L1755.9,563.6 L1758.4,563.6 L1760.9,563.6 L1763.4,563.5 L1765.9,563.5 L1768.4,563.5 L1770.9,563.5 L1773.4,563.5 L1775.9,563.5 L1778.4,563.4 L1780.9,563.4 L1783.4,563.4 L1785.9,563.4 L1788.4,563.4 L1790.9,563.3 L1793.4,563.3 L1795.9,563.3 L1798.4,563.3 L1800.9,563.2 L1803.4,563.2 L1805.9,563.2 L1808.4,563.2 L1810.9,563.1 L1813.4,563.1 L1815.9,563.1 L1818.4,563.1 L1820.9,563.0 L1823.4,563.0 L1825.9,563.0 L1828.4,562.9 L1830.9,562.9 L1833.4,562.9 L1835.9,562.8 L1838.4,562.8 L1840.9,562.7 L1843.4,562.7 L1845.9,562.7 L1848.4,562.6 L1850.9,562.6 L1853.4,562.5 L1856.0,562.5 L1858.5,562.4 L1861.0,562.4 L1863.5,562.3 L1866.0,562.3 L1869.0,563.5 L1869.0,590.0 L1868.0,606.0 L1866.5,610.0 L1864.0,610.4 L1861.5,610.7 L1859.0,611.0 L1856.5,611.4 L1854.0,611.7 L1851.5,612.1 L1849.1,612.4 L1846.6,612.7 L1844.1,613.0 L1841.6,613.4 L1839.1,613.7 L1836.6,614.0 L1834.1,614.3 L1831.6,614.6 L1829.1,614.9 L1826.6,615.2 L1824.2,615.5 L1821.7,615.8 L1819.2,616.0 L1816.7,616.3 L1814.2,616.6 L1811.7,616.9 L1809.2,617.1 L1806.7,617.4 L1804.3,617.7 L1801.8,617.9 L1799.3,618.2 L1796.8,618.4 L1794.3,618.7 L1791.8,618.9 L1789.3,619.2 L1786.8,619.4 L1784.4,619.7 L1781.9,619.9 L1779.4,620.1 L1776.9,620.3 L1774.4,620.6 L1771.9,620.8 L1769.4,621.0 L1767.0,621.2 L1764.5,621.4 L1762.0,621.6 L1759.5,621.8 L1757.0,622.0 L1754.5,622.2 L1752.1,622.4 L1749.6,622.6 L1747.1,622.8 L1744.6,623.0 L1742.1,623.2 L1739.6,623.4 L1737.1,623.5 L1734.7,623.7 L1732.2,623.9 L1729.7,624.1 L1727.2,624.2 L1724.7,624.4 L1722.2,624.5 L1719.7,624.7 L1717.3,624.9 L1714.8,625.0 L1712.3,625.2 L1709.8,625.3 L1707.3,625.4 L1704.8,625.6 L1702.4,625.7 L1699.9,625.9 L1697.4,626.0 L1694.9,626.1 L1692.4,626.3 L1689.9,626.4 L1687.4,626.5 L1684.9,626.6 L1682.5,626.8 L1680.0,626.9 L1677.5,627.0 L1675.0,627.1 L1672.5,627.2 L1670.0,627.3 L1667.5,627.4 L1665.1,627.5 L1662.6,627.6 L1660.1,627.7 L1657.6,627.8 L1655.1,627.9 L1652.6,628.0 L1650.1,628.1 L1647.6,628.2 L1645.1,628.3 L1642.7,628.4 L1640.2,628.5 L1637.7,628.5 L1635.2,628.6 L1632.7,628.7 L1630.2,628.8 L1627.7,628.9 L1625.2,628.9 L1622.7,629.0 L1620.2,629.1 L1617.7,629.1 L1615.3,629.2 L1612.8,629.3 L1610.3,629.3 L1607.8,629.4 L1605.3,629.4 L1602.8,629.5 L1600.3,629.6 L1597.8,629.6 L1595.3,629.7 L1592.8,629.7 L1590.3,629.8 L1587.8,629.8 L1585.3,629.9 L1582.8,629.9 L1580.3,630.0 L1577.8,630.0 L1575.3,630.0 L1572.8,630.1 L1570.3,630.1 L1567.8,630.2 L1565.3,630.2 L1562.8,630.2 L1560.3,630.3 L1557.8,630.3 L1555.3,630.3 L1552.8,630.4 L1550.3,630.4 L1547.8,630.4 L1545.3,630.4 L1542.8,630.5 L1540.3,630.5 L1537.8,630.5 L1535.3,630.5 L1532.8,630.6 L1530.3,630.6 L1527.8,630.6 L1525.3,630.6 L1522.8,630.7 L1520.3,630.7 L1517.7,630.7 L1515.2,630.7 L1512.7,630.7 L1510.2,630.7 L1507.7,630.8 L1505.2,630.8 L1502.7,630.8 L1500.2,630.8 L1497.6,630.8 L1495.1,630.8 L1492.6,630.8 L1490.1,630.8 L1487.6,630.9 L1485.1,630.9 L1482.5,630.9 L1480.0,630.9 L1477.5,630.9 L1475.0,630.9 L1472.5,630.9 L1469.9,630.9 L1467.4,630.9 L1464.9,630.9 L1462.4,630.9 L1459.9,630.9 L1457.3,631.0 L1454.8,631.0 L1452.3,631.0 L1449.8,631.0 L1447.2,631.0 L1444.7,631.0 L1442.2,631.0 L1439.6,631.0 L1437.1,631.0 L1434.6,631.0 L1432.0,631.0 L1429.5,631.0 L1427.0,631.1 L1424.5,631.1 L1421.9,631.1 L1419.4,631.1 L1416.9,631.2 L1414.4,631.2 L1411.8,631.3 L1409.3,631.3 L1406.8,631.4 L1404.3,631.4 L1401.7,631.5 L1399.2,631.6 L1396.7,631.7 L1394.2,631.8 L1391.7,631.9 L1389.2,632.0 L1386.7,632.1 L1384.2,632.3 L1381.7,632.4 L1379.2,632.6 L1376.7,632.7 L1374.2,632.9 L1371.7,633.1 L1369.2,633.3 L1366.7,633.5 L1364.2,633.7 L1361.7,634.0 L1359.3,634.2 L1356.8,634.5 L1354.3,634.8 L1351.9,635.1 L1349.4,635.4 L1347.0,635.7 L1344.5,636.1 L1342.1,636.4 L1339.6,636.8 L1337.2,637.2 L1334.8,637.6 L1332.3,638.0 L1329.9,638.5 L1327.5,639.0 L1325.1,639.4 L1322.7,640.0 L1320.3,640.5 L1317.9,641.0 L1315.5,641.6 L1313.1,642.2 L1310.8,642.8 L1308.4,643.5 L1306.0,644.1 L1303.7,644.8 L1301.3,645.5 L1299.0,646.2 L1296.6,647.0 L1294.3,647.8 L1292.0,648.6 L1289.7,649.4 L1287.4,650.2 L1285.1,651.1 L1282.8,652.0 L1280.5,653.0 L1278.3,653.9 L1276.0,654.9 L1273.8,655.9 L1271.5,657.0 L1269.3,658.0 L1267.1,659.1 L1264.9,660.3 L1262.7,661.4 L1260.5,662.6 L1258.4,663.8 L1256.2,665.1 L1254.1,666.4 L1252.0,667.7 L1249.9,669.1 L1247.8,670.4 L1245.7,671.8 L1243.6,673.3 L1241.6,674.8 L1239.5,676.3 L1237.5,677.8 L1235.5,679.4 L1233.5,681.0 L1231.5,682.7 L1229.6,684.4 L1227.6,686.0 L1225.7,687.8 L1223.7,689.5 L1221.8,691.2 L1219.9,693.0 L1217.9,694.7 L1216.0,696.5 L1214.1,698.2 L1212.2,700.0 L1210.2,701.7 L1208.3,703.4 L1206.4,705.2 L1204.4,706.9 L1202.5,708.6 L1200.5,710.3 L1198.6,711.9 L1196.6,713.5 L1194.6,715.1 L1192.6,716.7 L1190.6,718.2 L1188.6,719.7 L1186.5,721.2 L1184.4,722.6 L1182.3,723.9 L1180.2,725.2 L1178.1,726.5 L1176.0,727.7 L1173.8,728.8 L1171.6,729.9 L1169.4,730.9 L1167.2,731.9 L1164.9,732.8 L1162.7,733.6 L1160.4,734.4 L1158.1,735.0 L1155.8,735.6 L1153.5,736.2 L1151.2,736.6 L1148.9,736.9 L1146.6,737.2 L1144.3,737.4 L1141.9,737.5 L1139.6,737.5 L1137.3,737.4 L1135.0,737.2 L1132.7,737.0 L1130.4,736.6 L1128.0,736.2 L1125.7,735.7 L1123.4,735.2 L1121.1,734.6 L1118.8,733.9 L1116.5,733.1 L1114.1,732.3 L1111.8,731.5 L1109.5,730.6 L1107.2,729.6 L1104.9,728.6 L1102.6,727.6 L1100.3,726.5 L1098.0,725.4 L1095.7,724.3 L1093.4,723.1 L1091.1,721.9 L1088.8,720.7 L1086.5,719.5 L1084.2,718.3 L1081.9,717.0 L1079.6,715.8 L1077.3,714.5 L1075.1,713.2 L1072.8,712.0 L1070.5,710.7 L1068.2,709.5 L1065.9,708.3 L1063.7,707.0 L1061.4,705.8 L1059.1,704.6 L1056.9,703.4 L1054.6,702.3 L1052.3,701.1 L1050.1,700.0 L1047.8,698.8 L1045.6,697.7 L1043.3,696.6 L1041.0,695.5 L1038.8,694.4 L1036.5,693.4 L1034.2,692.3 L1031.9,691.3 L1029.7,690.3 L1027.4,689.3 L1025.1,688.3 L1022.8,687.4 L1020.5,686.4 L1018.2,685.5 L1015.9,684.6 L1013.6,683.7 L1011.3,682.9 L1009.0,682.1 L1006.7,681.2 L1004.4,680.5 L1002.0,679.7 L999.7,679.0 L997.4,678.2 L995.0,677.5 L992.6,676.9 L990.3,676.2 L987.9,675.6 L985.5,675.0 L983.1,674.5 L980.7,673.9 L978.3,673.4 L975.9,672.9 L973.5,672.4 L971.1,672.0 L968.6,671.5 L966.2,671.1 L963.8,670.7 L961.3,670.3 L958.9,670.0 L956.4,669.6 L953.9,669.3 L951.5,669.0 L949.0,668.7 L946.5,668.4 L944.0,668.1 L941.6,667.8 L939.1,667.6 L936.6,667.3 L934.1,667.1 L931.6,666.9 L929.1,666.7 L926.6,666.5 L924.1,666.3 L921.6,666.1 L919.1,665.9 L916.6,665.7 L914.1,665.6 L911.6,665.4 L909.1,665.3 L906.6,665.1 L904.0,665.0 L901.5,664.8 L899.0,664.7 L896.5,664.5 L894.0,664.4 L891.5,664.2 L889.0,664.1 L886.5,664.0 L884.0,663.8 L881.5,663.7 L879.0,663.5 L876.4,663.4 L873.9,663.3 L871.4,663.2 L868.9,663.0 L866.4,662.9 L863.9,662.8 L861.4,662.6 L858.9,662.5 L856.4,662.4 L853.9,662.3 L851.4,662.2 L848.9,662.1 L846.3,661.9 L843.8,661.8 L841.3,661.7 L838.8,661.6 L836.3,661.5 L833.8,661.4 L831.3,661.3 L828.8,661.2 L826.3,661.1 L823.8,661.0 L821.3,660.9 L818.8,660.8 L816.3,660.7 L813.8,660.6 L811.3,660.5 L808.8,660.4 L806.2,660.3 L803.7,660.2 L801.2,660.1 L798.7,660.1 L796.2,660.0 L793.7,659.9 L791.2,659.8 L788.7,659.7 L786.2,659.6 L783.7,659.6 L781.2,659.5 L778.7,659.4 L776.2,659.3 L773.7,659.3 L771.2,659.2 L768.7,659.1 L766.2,659.1 L763.7,659.0 L761.2,658.9 L758.7,658.9 L756.2,658.8 L753.7,658.8 L751.2,658.7 L748.7,658.6 L746.1,658.6 L743.6,658.5 L741.1,658.5 L738.6,658.4 L736.1,658.4 L733.6,658.3 L731.1,658.3 L728.6,658.2 L726.1,658.2 L723.6,658.1 L721.1,658.1 L718.6,658.1 L716.1,658.0 L713.6,658.0 L711.1,657.9 L708.6,657.9 L706.1,657.9 L703.6,657.8 L701.1,657.8 L698.6,657.8 L696.1,657.7 L693.6,657.7 L691.1,657.7 L688.6,657.7 L686.1,657.6 L683.6,657.6 L681.1,657.6 L678.6,657.6 L676.1,657.6 L673.6,657.5 L671.1,657.5 L668.6,657.5 L666.1,657.5 L663.6,657.5 L661.1,657.5 L658.6,657.5 L656.1,657.4 L653.6,657.4 L651.1,657.4 L648.6,657.4 L646.1,657.4 L643.6,657.4 L641.1,657.4 L638.6,657.4 L636.1,657.4 L633.6,657.4 L631.1,657.4 L628.6,657.4 L626.1,657.4 L623.6,657.4 L621.1,657.4 L618.6,657.5 L616.1,657.5 L613.6,657.5 L611.1,657.5 L608.6,657.5 L606.1,657.5 L603.6,657.5 L601.1,657.6 L598.6,657.6 L596.1,657.6 L593.6,657.6 L591.1,657.6 L588.6,657.7 L586.1,657.7 L583.6,657.7 L581.1,657.7 L578.6,657.8 L576.1,657.8 L573.6,657.8 L571.1,657.9 L568.6,657.9 L566.1,657.9 L563.6,658.0 L561.1,658.0 L558.6,658.0 L556.2,658.1 L553.7,658.1 L551.2,658.1 L548.7,658.2 L546.2,658.2 L543.7,658.3 L541.2,658.3 L538.7,658.4 L536.2,658.4 L533.7,658.5 L531.2,658.5 L528.7,658.5 L526.2,658.6 L523.7,658.7 L521.2,658.7 L518.7,658.8 L516.2,658.8 L513.7,658.9 L511.2,658.9 L508.7,659.0 L506.2,659.0 L503.7,659.1 L501.2,659.2 L498.7,659.2 L496.2,659.3 L493.7,659.4 L491.2,659.4 L488.7,659.5 L486.2,659.6 L483.7,659.6 L481.2,659.7 L478.7,659.8 L476.2,659.8 L473.7,659.9 L471.2,660.0 L468.7,660.1 L466.2,660.1 L463.8,660.2 L461.3,660.3 L458.8,660.4 L456.3,660.4 L453.8,660.5 L451.3,660.6 L448.8,660.7 L446.3,660.8 L443.8,660.8 L441.3,660.9 L438.8,661.0 L436.3,661.1 L433.8,661.2 L431.3,661.3 L428.8,661.4 L426.3,661.5 L423.8,661.5 L421.3,661.6 L418.8,661.7 L416.3,661.8 L413.8,661.9 L411.3,662.0 L408.8,662.1 L406.3,662.2 L403.8,662.3 L401.3,662.4 L398.8,662.5 L396.3,662.6 L393.8,662.7 L391.3,662.8 L388.8,662.9 L386.4,663.0 L383.9,663.1 L381.4,663.2 L378.9,663.3 L376.4,663.4 L373.9,663.6 L371.4,663.7 L368.9,663.8 L366.4,663.9 L363.9,664.0 L361.4,664.1 L358.9,664.2 L356.4,664.3 L353.9,664.5 L351.4,664.6 L348.9,664.7 L346.4,664.8 L343.9,664.9 L341.4,665.0 L338.9,665.2 L336.4,665.3 L333.9,665.4 L331.4,665.5 L328.9,665.6 L326.4,665.8 L323.9,665.9 L321.4,666.0 L318.9,666.1 L316.4,666.3 L313.9,666.4 L311.4,666.5 L308.9,666.7 L306.4,666.8 L303.9,666.9 L301.4,667.1 L298.9,667.2 L296.4,667.3 L294.0,667.5 L291.5,667.6 L289.0,667.7 L286.5,667.9 L284.0,668.0 L281.5,668.1 L279.0,668.3 L276.5,668.4 L274.0,668.5 L271.5,668.7 L269.0,668.8 L266.5,669.0 L264.0,669.1 L261.5,669.2 L259.0,669.4 L256.5,669.5 L254.0,669.7 L251.5,669.8 L249.0,670.0 L246.5,670.1 L244.0,670.3 L241.5,670.4 L239.0,670.6 L236.5,670.7 L234.0,670.9 L231.5,671.0 L229.0,671.2 L226.5,671.3 L224.0,671.5 L221.5,671.6 L219.0,671.8 L216.5,671.9 L214.0,672.1 L211.5,672.2 L209.0,672.4 L206.5,672.5 L204.0,672.7 L201.5,672.9 L199.0,673.0 L196.5,673.2 L194.0,673.3 L191.5,673.5 L189.0,673.7 L186.5,673.8 L184.0,674.0 L181.5,674.1 L179.0,674.3 L176.5,674.5 L174.0,674.6 L171.5,674.8" fill="none" stroke="#007f00" stroke-width="9" stroke-linejoin="round" stroke-linecap="butt"/>
<path d="M171.5,902.5 L173.9,901.9 L176.3,901.3 L178.8,900.8 L181.2,900.2 L183.6,899.6 L186.0,899.1 L188.4,898.5 L190.9,898.0 L193.3,897.4 L195.7,896.9 L198.1,896.3 L200.6,895.8 L203.0,895.3 L205.4,894.7 L207.9,894.2 L210.3,893.7 L212.7,893.2 L215.2,892.7 L217.6,892.1 L220.1,891.6 L222.5,891.1 L224.9,890.6 L227.4,890.1 L229.8,889.6 L232.3,889.2 L234.7,888.7 L237.2,888.2 L239.6,887.7 L242.1,887.3 L244.5,886.8 L247.0,886.3 L249.4,885.9 L251.9,885.4 L254.3,884.9 L256.8,884.5 L259.2,884.1 L261.7,883.6 L264.2,883.2 L266.6,882.7 L269.1,882.3 L271.5,881.9 L274.0,881.4 L276.5,881.0 L278.9,880.6 L281.4,880.2 L283.9,879.8 L286.3,879.4 L288.8,879.0 L291.3,878.6 L293.7,878.2 L296.2,877.8 L298.7,877.4 L301.1,877.0 L303.6,876.6 L306.1,876.3 L308.6,875.9 L311.0,875.5 L313.5,875.1 L316.0,874.8 L318.5,874.4 L320.9,874.1 L323.4,873.7 L325.9,873.4 L328.4,873.0 L330.9,872.7 L333.3,872.3 L335.8,872.0 L338.3,871.7 L340.8,871.3 L343.3,871.0 L345.8,870.7 L348.2,870.4 L350.7,870.0 L353.2,869.7 L355.7,869.4 L358.2,869.1 L360.7,868.8 L363.2,868.5 L365.7,868.2 L368.1,867.9 L370.6,867.6 L373.1,867.3 L375.6,867.1 L378.1,866.8 L380.6,866.5 L383.1,866.2 L385.6,866.0 L388.1,865.7 L390.6,865.4 L393.1,865.2 L395.6,864.9 L398.1,864.7 L400.6,864.4 L403.0,864.2 L405.5,863.9 L408.0,863.7 L410.5,863.4 L413.0,863.2 L415.5,863.0 L418.0,862.7 L420.5,862.5 L423.0,862.3 L425.5,862.1 L428.0,861.8 L430.5,861.6 L433.0,861.4 L435.5,861.2 L438.0,861.0 L440.5,860.8 L443.0,860.6 L445.5,860.4 L448.0,860.2 L450.5,860.0 L453.0,859.8 L455.5,859.7 L458.0,859.5 L460.5,859.3 L463.0,859.1 L465.5,858.9 L468.0,858.8 L470.5,858.6 L473.0,858.4 L475.5,858.3 L478.1,858.1 L480.6,858.0 L483.1,857.8 L485.6,857.7 L488.1,857.5 L490.6,857.4 L493.1,857.2 L495.6,857.1 L498.1,857.0 L500.6,856.8 L503.1,856.7 L505.6,856.6 L508.1,856.5 L510.6,856.3 L513.1,856.2 L515.6,856.1 L518.1,856.0 L520.6,855.9 L523.1,855.8 L525.6,855.7 L528.1,855.6 L530.6,855.5 L533.1,855.4 L535.6,855.3 L538.1,855.2 L540.6,855.1 L543.1,855.0 L545.6,854.9 L548.1,854.8 L550.6,854.8 L553.1,854.7 L555.6,854.6 L558.1,854.6 L560.6,854.5 L563.1,854.4 L565.6,854.4 L568.1,854.3 L570.6,854.2 L573.1,854.2 L575.6,854.1 L578.1,854.1 L580.6,854.0 L583.1,854.0 L585.6,853.9 L588.1,853.9 L590.6,853.9 L593.1,853.8 L595.6,853.8 L598.1,853.8 L600.6,853.7 L603.1,853.7 L605.6,853.7 L608.1,853.7 L610.6,853.6 L613.0,853.6 L615.5,853.6 L618.0,853.6 L620.5,853.6 L623.0,853.6 L625.5,853.6 L628.0,853.5 L630.5,853.5 L633.0,853.5 L635.5,853.5 L638.0,853.5 L640.5,853.5 L643.0,853.5 L645.5,853.5 L647.9,853.5 L650.4,853.5 L652.9,853.5 L655.4,853.5 L657.9,853.6 L660.4,853.6 L662.9,853.6 L665.4,853.6 L667.9,853.6 L670.4,853.6 L672.9,853.6 L675.4,853.6 L677.8,853.7 L680.3,853.7 L682.8,853.7 L685.3,853.7 L687.8,853.7 L690.3,853.7 L692.8,853.8 L695.3,853.8 L697.8,853.8 L700.3,853.8 L702.8,853.9 L705.3,853.9 L707.7,853.9 L710.2,853.9 L712.7,853.9 L715.2,854.0 L717.7,854.0 L720.2,854.0 L722.7,854.0 L725.2,854.1 L727.7,854.1 L730.2,854.1 L732.7,854.1 L735.2,854.2 L737.6,854.2 L740.1,854.2 L742.6,854.2 L745.1,854.3 L747.6,854.3 L750.1,854.3 L752.6,854.3 L755.1,854.4 L757.6,854.4 L760.1,854.4 L762.6,854.4 L765.1,854.4 L767.6,854.5 L770.1,854.5 L772.6,854.5 L775.1,854.5 L777.5,854.5 L780.0,854.6 L782.5,854.6 L785.0,854.6 L787.5,854.6 L790.0,854.6 L792.5,854.6 L795.0,854.6 L797.5,854.6 L800.0,854.7 L802.5,854.7 L805.0,854.7 L807.5,854.7 L810.0,854.7 L812.5,854.7 L815.0,854.7 L817.5,854.7 L820.0,854.7 L822.5,854.7 L825.0,854.7 L827.5,854.7 L830.0,854.7 L832.5,854.6 L835.0,854.6 L837.5,854.6 L840.0,854.6 L842.5,854.6 L845.0,854.6 L847.5,854.6 L850.0,854.5 L852.5,854.5 L855.0,854.5 L857.6,854.5 L860.1,854.4 L862.6,854.4 L865.1,854.4 L867.6,854.3 L870.1,854.3 L872.6,854.2 L875.1,854.2 L877.6,854.2 L880.1,854.1 L882.6,854.1 L885.2,854.0 L887.7,853.9 L890.2,853.9 L892.7,853.8 L895.2,853.8 L897.7,853.7 L900.2,853.6 L902.7,853.6 L905.3,853.5 L907.8,853.4 L910.3,853.3 L912.8,853.2 L915.3,853.2 L917.8,853.1 L920.4,853.0 L922.9,852.9 L925.4,852.8 L927.9,852.7 L930.5,852.6 L933.0,852.5 L935.5,852.4 L938.0,852.2 L940.5,852.1 L943.1,852.0 L945.6,851.9 L948.1,851.7 L950.6,851.6 L953.2,851.5 L955.7,851.3 L958.2,851.1 L960.7,851.0 L963.2,850.8 L965.8,850.6 L968.3,850.4 L970.8,850.2 L973.3,850.0 L975.8,849.8 L978.3,849.6 L980.8,849.3 L983.3,849.0 L985.8,848.8 L988.3,848.5 L990.8,848.2 L993.3,847.9 L995.7,847.5 L998.2,847.2 L1000.7,846.8 L1003.1,846.5 L1005.6,846.1 L1008.0,845.6 L1010.5,845.2 L1012.9,844.8 L1015.4,844.3 L1017.8,843.8 L1020.2,843.3 L1022.6,842.8 L1025.0,842.2 L1027.4,841.7 L1029.8,841.1 L1032.2,840.5 L1034.6,839.8 L1037.0,839.2 L1039.3,838.5 L1041.7,837.8 L1044.0,837.1 L1046.4,836.3 L1048.7,835.5 L1051.0,834.7 L1053.3,833.9 L1055.6,833.0 L1057.9,832.1 L1060.2,831.2 L1062.5,830.3 L1064.7,829.3 L1067.0,828.3 L1069.2,827.2 L1071.4,826.2 L1073.6,825.1 L1075.8,823.9 L1078.0,822.8 L1080.2,821.6 L1082.4,820.4 L1084.5,819.1 L1086.7,817.8 L1088.8,816.5 L1090.9,815.2 L1093.0,813.8 L1095.1,812.4 L1097.2,811.0 L1099.3,809.6 L1101.4,808.1 L1103.5,806.7 L1105.5,805.2 L1107.6,803.7 L1109.7,802.2 L1111.7,800.7 L1113.8,799.2 L1115.9,797.6 L1117.9,796.1 L1120.0,794.6 L1122.0,793.0 L1124.1,791.5 L1126.1,789.9 L1128.2,788.4 L1130.2,786.9 L1132.3,785.3 L1134.3,783.8 L1136.4,782.3 L1138.5,780.8 L1140.5,779.3 L1142.6,777.8 L1144.7,776.3 L1146.8,774.9 L1148.9,773.5 L1151.0,772.0 L1153.1,770.7 L1155.2,769.3 L1157.4,767.9 L1159.5,766.6 L1161.7,765.3 L1163.8,764.1 L1166.0,762.8 L1168.2,761.6 L1170.4,760.5 L1172.6,759.3 L1174.8,758.2 L1177.1,757.2 L1179.3,756.1 L1181.6,755.2 L1183.9,754.2 L1186.2,753.3 L1188.5,752.5 L1190.9,751.7 L1193.2,750.9 L1195.6,750.2 L1198.0,749.6 L1200.3,749.0 L1202.7,748.5 L1205.1,748.0 L1207.5,747.5 L1209.9,747.2 L1212.3,746.9 L1214.8,746.6 L1217.2,746.4 L1219.6,746.3 L1222.0,746.3 L1224.4,746.3 L1226.8,746.4 L1229.3,746.5 L1231.7,746.8 L1234.1,747.1 L1236.5,747.4 L1238.9,747.8 L1241.3,748.3 L1243.7,748.8 L1246.1,749.3 L1248.5,749.9 L1250.9,750.5 L1253.3,751.2 L1255.7,751.9 L1258.1,752.6 L1260.5,753.4 L1262.9,754.2 L1265.3,755.0 L1267.7,755.8 L1270.1,756.6 L1272.5,757.4 L1274.9,758.2 L1277.3,759.1 L1279.7,759.9 L1282.1,760.7 L1284.5,761.5 L1286.9,762.3 L1289.3,763.1 L1291.7,763.9 L1294.1,764.7 L1296.5,765.5 L1298.9,766.3 L1301.3,767.0 L1303.7,767.8 L1306.1,768.5 L1308.5,769.2 L1311.0,770.0 L1313.4,770.7 L1315.8,771.4 L1318.2,772.1 L1320.6,772.8 L1323.0,773.5 L1325.4,774.2 L1327.8,774.8 L1330.3,775.5 L1332.7,776.2 L1335.1,776.8 L1337.5,777.4 L1339.9,778.1 L1342.4,778.7 L1344.8,779.3 L1347.2,779.9 L1349.6,780.5 L1352.1,781.1 L1354.5,781.7 L1356.9,782.3 L1359.3,782.9 L1361.8,783.4 L1364.2,784.0 L1366.6,784.5 L1369.1,785.1 L1371.5,785.6 L1373.9,786.1 L1376.4,786.6 L1378.8,787.1 L1381.2,787.6 L1383.7,788.1 L1386.1,788.6 L1388.6,789.1 L1391.0,789.6 L1393.4,790.0 L1395.9,790.5 L1398.3,790.9 L1400.8,791.4 L1403.2,791.8 L1405.7,792.2 L1408.1,792.7 L1410.6,793.1 L1413.0,793.5 L1415.5,793.9 L1417.9,794.3 L1420.4,794.6 L1422.9,795.0 L1425.3,795.4 L1427.8,795.8 L1430.2,796.1 L1432.7,796.5 L1435.2,796.8 L1437.6,797.1 L1440.1,797.5 L1442.6,797.8 L1445.0,798.1 L1447.5,798.4 L1450.0,798.7 L1452.4,799.0 L1454.9,799.3 L1457.4,799.6 L1459.9,799.8 L1462.3,800.1 L1464.8,800.4 L1467.3,800.6 L1469.8,800.9 L1472.3,801.1 L1474.7,801.4 L1477.2,801.6 L1479.7,801.8 L1482.2,802.0 L1484.7,802.3 L1487.1,802.5 L1489.6,802.7 L1492.1,802.9 L1494.6,803.1 L1497.1,803.3 L1499.6,803.4 L1502.1,803.6 L1504.6,803.8 L1507.1,804.0 L1509.5,804.1 L1512.0,804.3 L1514.5,804.4 L1517.0,804.6 L1519.5,804.7 L1522.0,804.9 L1524.5,805.0 L1527.0,805.1 L1529.5,805.2 L1532.0,805.4 L1534.5,805.5 L1537.0,805.6 L1539.5,805.7 L1542.0,805.8 L1544.5,805.9 L1547.0,806.0 L1549.5,806.1 L1552.0,806.2 L1554.5,806.3 L1557.0,806.3 L1559.5,806.4 L1562.0,806.5 L1564.5,806.5 L1567.0,806.6 L1569.5,806.7 L1572.0,806.7 L1574.6,806.8 L1577.1,806.8 L1579.6,806.9 L1582.1,806.9 L1584.6,807.0 L1587.1,807.0 L1589.6,807.0 L1592.1,807.1 L1594.6,807.1 L1597.1,807.1 L1599.6,807.1 L1602.1,807.1 L1604.7,807.2 L1607.2,807.2 L1609.7,807.2 L1612.2,807.2 L1614.7,807.2 L1617.2,807.2 L1619.7,807.2 L1622.2,807.2 L1624.8,807.2 L1627.3,807.2 L1629.8,807.2 L1632.3,807.2 L1634.8,807.2 L1637.3,807.2 L1639.8,807.1 L1642.3,807.1 L1644.9,807.1 L1647.4,807.1 L1649.9,807.1 L1652.4,807.0 L1654.9,807.0 L1657.4,807.0 L1659.9,806.9 L1662.5,806.9 L1665.0,806.9 L1667.5,806.9 L1670.0,806.8 L1672.5,806.8 L1675.0,806.7 L1677.5,806.7 L1680.0,806.7 L1682.6,806.6 L1685.1,806.6 L1687.6,806.6 L1690.1,806.5 L1692.6,806.5 L1695.1,806.4 L1697.6,806.4 L1700.1,806.3 L1702.7,806.3 L1705.2,806.3 L1707.7,806.2 L1710.2,806.2 L1712.7,806.1 L1715.2,806.1 L1717.7,806.0 L1720.2,806.0 L1722.7,805.9 L1725.2,805.9 L1727.8,805.9 L1730.3,805.8 L1732.8,805.8 L1735.3,805.7 L1737.8,805.7 L1740.3,805.6 L1742.8,805.6 L1745.3,805.6 L1747.8,805.5 L1750.3,805.5 L1752.8,805.4 L1755.3,805.4 L1757.8,805.4 L1760.3,805.3 L1762.8,805.3 L1765.3,805.3 L1767.8,805.2 L1770.3,805.2 L1772.8,805.2 L1775.3,805.1 L1777.8,805.1 L1780.3,805.1 L1782.8,805.1 L1785.3,805.0 L1787.8,805.0 L1790.3,805.0 L1792.8,805.0 L1795.3,805.0 L1797.8,805.0 L1800.3,805.0 L1802.8,804.9 L1805.3,804.9 L1807.8,804.9 L1810.3,804.9 L1812.7,804.9 L1815.2,804.9 L1817.7,804.9 L1820.2,804.9 L1822.7,805.0 L1825.2,805.0 L1827.7,805.0 L1830.1,805.0 L1832.6,805.0 L1835.1,805.0 L1837.6,805.1 L1840.1,805.1 L1842.5,805.1 L1845.0,805.2 L1847.5,805.2 L1856.0,805.6 L1862.0,807.0 L1867.0,809.5 L1870.5,813.0 L1869.0,816.5 L1864.5,819.5 L1858.0,822.5 L1852.0,824.8 L1849.6,825.4 L1847.1,826.0 L1844.6,826.6 L1842.2,827.1 L1839.7,827.7 L1837.3,828.3 L1834.8,828.8 L1832.4,829.3 L1829.9,829.9 L1827.5,830.4 L1825.0,830.9 L1822.6,831.4 L1820.1,831.9 L1817.6,832.4 L1815.2,832.9 L1812.7,833.4 L1810.3,833.9 L1807.8,834.4 L1805.3,834.9 L1802.9,835.3 L1800.4,835.8 L1798.0,836.2 L1795.5,836.7 L1793.0,837.1 L1790.6,837.5 L1788.1,838.0 L1785.6,838.4 L1783.2,838.8 L1780.7,839.2 L1778.2,839.6 L1775.8,840.0 L1773.3,840.4 L1770.8,840.8 L1768.4,841.1 L1765.9,841.5 L1763.4,841.9 L1761.0,842.2 L1758.5,842.6 L1756.0,842.9 L1753.5,843.3 L1751.1,843.6 L1748.6,844.0 L1746.1,844.3 L1743.7,844.6 L1741.2,844.9 L1738.7,845.3 L1736.2,845.6 L1733.8,845.9 L1731.3,846.2 L1728.8,846.5 L1726.3,846.8 L1723.9,847.0 L1721.4,847.3 L1718.9,847.6 L1716.4,847.9 L1714.0,848.2 L1711.5,848.4 L1709.0,848.7 L1706.5,848.9 L1704.0,849.2 L1701.6,849.4 L1699.1,849.7 L1696.6,849.9 L1694.1,850.2 L1691.6,850.4 L1689.2,850.6 L1686.7,850.9 L1684.2,851.1 L1681.7,851.3 L1679.2,851.5 L1676.7,851.7 L1674.3,851.9 L1671.8,852.1 L1669.3,852.3 L1666.8,852.5 L1664.3,852.7 L1661.8,852.9 L1659.3,853.1 L1656.9,853.3 L1654.4,853.5 L1651.9,853.7 L1649.4,853.8 L1646.9,854.0 L1644.4,854.2 L1641.9,854.4 L1639.4,854.5 L1636.9,854.7 L1634.5,854.9 L1632.0,855.0 L1629.5,855.2 L1627.0,855.3 L1624.5,855.5 L1622.0,855.6 L1619.5,855.8 L1617.0,855.9 L1614.5,856.1 L1612.0,856.2 L1609.5,856.4 L1607.0,856.5 L1604.6,856.6 L1602.1,856.8 L1599.6,856.9 L1597.1,857.0 L1594.6,857.2 L1592.1,857.3 L1589.6,857.4 L1587.1,857.6 L1584.6,857.7 L1582.1,857.8 L1579.6,857.9 L1577.1,858.1 L1574.6,858.2 L1572.1,858.3 L1569.6,858.4 L1567.1,858.5 L1564.6,858.7 L1562.1,858.8 L1559.6,858.9 L1557.1,859.0 L1554.6,859.1 L1552.1,859.2 L1549.6,859.3 L1547.1,859.5 L1544.6,859.6 L1542.1,859.7 L1539.6,859.8 L1537.1,859.9 L1534.6,860.0 L1532.1,860.1 L1529.6,860.2 L1527.1,860.4 L1524.6,860.5 L1522.1,860.6 L1519.6,860.7 L1517.1,860.8 L1514.6,860.9 L1512.1,861.0 L1509.6,861.1 L1507.1,861.3 L1504.6,861.4 L1502.1,861.5 L1499.6,861.6 L1497.1,861.7 L1494.5,861.8 L1492.0,862.0 L1489.5,862.1 L1487.0,862.2 L1484.5,862.3 L1482.0,862.5 L1479.5,862.6 L1477.0,862.7 L1474.5,862.8 L1472.0,863.0 L1469.5,863.1 L1467.0,863.2 L1464.5,863.3 L1462.0,863.5 L1459.5,863.6 L1456.9,863.8 L1454.4,863.9 L1451.9,864.0 L1449.4,864.2 L1446.9,864.3 L1444.4,864.5 L1441.9,864.6 L1439.4,864.8 L1436.9,864.9 L1434.4,865.1 L1431.9,865.2 L1429.3,865.4 L1426.8,865.6 L1424.3,865.7 L1421.8,865.9 L1419.3,866.1 L1416.8,866.2 L1414.3,866.4 L1411.8,866.6 L1409.3,866.8 L1406.7,866.9 L1404.2,867.1 L1401.7,867.3 L1399.2,867.5 L1396.7,867.7 L1394.2,867.9 L1391.7,868.1 L1389.2,868.3 L1386.7,868.5 L1384.1,868.7 L1381.6,869.0 L1379.1,869.2 L1376.6,869.4 L1374.1,869.6 L1371.6,869.9 L1369.1,870.1 L1366.6,870.4 L1364.1,870.6 L1361.6,870.9 L1359.1,871.2 L1356.6,871.4 L1354.1,871.7 L1351.6,872.0 L1349.1,872.4 L1346.6,872.7 L1344.1,873.0 L1341.6,873.4 L1339.2,873.7 L1336.7,874.1 L1334.2,874.5 L1331.8,874.9 L1329.3,875.3 L1326.8,875.7 L1324.4,876.1 L1321.9,876.6 L1319.5,877.1 L1317.0,877.6 L1314.6,878.1 L1312.2,878.6 L1309.8,879.1 L1307.3,879.7 L1304.9,880.2 L1302.5,880.8 L1300.1,881.4 L1297.7,882.1 L1295.4,882.7 L1293.0,883.4 L1290.6,884.1 L1288.2,884.8 L1285.9,885.5 L1283.5,886.3 L1281.2,887.1 L1278.9,887.9 L1276.5,888.7 L1274.2,889.5 L1271.9,890.4 L1269.6,891.3 L1267.3,892.2 L1265.1,893.2 L1262.8,894.1 L1260.5,895.2 L1258.3,896.2 L1256.0,897.2 L1253.8,898.3 L1251.6,899.4 L1249.4,900.6 L1247.2,901.7 L1245.0,902.9 L1242.8,904.1 L1240.6,905.4 L1238.4,906.6 L1236.3,907.9 L1234.1,909.2 L1231.9,910.5 L1229.8,911.8 L1227.7,913.2 L1225.5,914.5 L1223.4,915.9 L1221.3,917.3 L1219.1,918.7 L1217.0,920.1 L1214.9,921.5 L1212.8,922.9 L1210.7,924.3 L1208.6,925.7 L1206.5,927.2 L1204.3,928.6 L1202.2,930.0 L1200.1,931.5 L1198.0,932.9 L1195.9,934.4 L1193.8,935.8 L1191.7,937.2 L1189.6,938.6 L1187.4,940.1 L1185.3,941.5 L1183.2,942.9 L1181.1,944.3 L1178.9,945.7 L1176.8,947.1 L1174.7,948.4 L1172.5,949.8 L1170.4,951.1 L1168.2,952.4 L1166.0,953.7 L1163.9,955.0 L1161.7,956.3 L1159.5,957.5 L1157.3,958.8 L1155.1,960.0 L1152.9,961.2 L1150.7,962.3 L1148.4,963.4 L1146.2,964.6 L1143.9,965.6 L1141.7,966.7 L1139.4,967.7 L1137.1,968.7 L1134.8,969.6 L1132.5,970.6 L1130.2,971.4 L1127.9,972.3 L1125.5,973.0 L1123.2,973.8 L1120.9,974.5 L1118.5,975.1 L1116.1,975.6 L1113.8,976.1 L1111.4,976.5 L1109.0,976.9 L1106.7,977.2 L1104.3,977.3 L1101.9,977.5 L1099.5,977.5 L1097.1,977.4 L1094.8,977.3 L1092.4,977.1 L1090.0,976.8 L1087.6,976.4 L1085.2,976.0 L1082.8,975.5 L1080.5,975.0 L1078.1,974.4 L1075.7,973.8 L1073.3,973.1 L1070.9,972.4 L1068.5,971.7 L1066.1,971.0 L1063.7,970.2 L1061.3,969.4 L1058.9,968.6 L1056.5,967.8 L1054.1,967.0 L1051.7,966.3 L1049.3,965.5 L1046.9,964.7 L1044.5,964.0 L1042.1,963.2 L1039.7,962.5 L1037.3,961.7 L1034.8,961.0 L1032.4,960.3 L1030.0,959.6 L1027.6,958.9 L1025.1,958.2 L1022.7,957.5 L1020.3,956.8 L1017.9,956.1 L1015.4,955.5 L1013.0,954.8 L1010.6,954.1 L1008.1,953.5 L1005.7,952.9 L1003.3,952.2 L1000.8,951.6 L998.4,951.0 L995.9,950.4 L993.5,949.8 L991.1,949.2 L988.6,948.6 L986.2,948.0 L983.7,947.4 L981.3,946.9 L978.8,946.3 L976.4,945.7 L973.9,945.2 L971.5,944.7 L969.0,944.1 L966.6,943.6 L964.1,943.1 L961.7,942.6 L959.2,942.0 L956.7,941.5 L954.3,941.1 L951.8,940.6 L949.4,940.1 L946.9,939.6 L944.4,939.1 L942.0,938.7 L939.5,938.2 L937.1,937.8 L934.6,937.3 L932.1,936.9 L929.7,936.5 L927.2,936.0 L924.7,935.6 L922.3,935.2 L919.8,934.8 L917.3,934.4 L914.9,934.0 L912.4,933.6 L909.9,933.2 L907.5,932.9 L905.0,932.5 L902.5,932.1 L900.1,931.8 L897.6,931.4 L895.1,931.1 L892.6,930.8 L890.2,930.4 L887.7,930.1 L885.2,929.8 L882.7,929.5 L880.3,929.1 L877.8,928.8 L875.3,928.5 L872.9,928.2 L870.4,928.0 L867.9,927.7 L865.4,927.4 L862.9,927.1 L860.5,926.9 L858.0,926.6 L855.5,926.3 L853.0,926.1 L850.6,925.9 L848.1,925.6 L845.6,925.4 L843.1,925.2 L840.6,924.9 L838.2,924.7 L835.7,924.5 L833.2,924.3 L830.7,924.1 L828.2,923.9 L825.8,923.7 L823.3,923.5 L820.8,923.3 L818.3,923.2 L815.8,923.0 L813.3,922.8 L810.8,922.6 L808.4,922.5 L805.9,922.3 L803.4,922.2 L800.9,922.0 L798.4,921.9 L795.9,921.8 L793.4,921.6 L791.0,921.5 L788.5,921.4 L786.0,921.3 L783.5,921.2 L781.0,921.1 L778.5,921.0 L776.0,920.9 L773.5,920.8 L771.0,920.7 L768.6,920.6 L766.1,920.5 L763.6,920.4 L761.1,920.4 L758.6,920.3 L756.1,920.2 L753.6,920.2 L751.1,920.1 L748.6,920.1 L746.1,920.0 L743.6,920.0 L741.1,919.9 L738.7,919.9 L736.2,919.9 L733.7,919.8 L731.2,919.8 L728.7,919.8 L726.2,919.8 L723.7,919.8 L721.2,919.8 L718.7,919.7 L716.2,919.7 L713.7,919.7 L711.2,919.8 L708.7,919.8 L706.2,919.8 L703.7,919.8 L701.2,919.8 L698.7,919.8 L696.2,919.9 L693.7,919.9 L691.2,919.9 L688.7,920.0 L686.2,920.0 L683.7,920.0 L681.2,920.1 L678.7,920.1 L676.2,920.2 L673.7,920.3 L671.2,920.3 L668.7,920.4 L666.2,920.4 L663.7,920.5 L661.2,920.6 L658.7,920.7 L656.2,920.7 L653.7,920.8 L651.2,920.9 L648.7,921.0 L646.2,921.1 L643.7,921.2 L641.2,921.3 L638.7,921.4 L636.2,921.5 L633.7,921.6 L631.2,921.7 L628.7,921.8 L626.2,921.9 L623.7,922.0 L621.2,922.1 L618.7,922.2 L616.2,922.4 L613.7,922.5 L611.2,922.6 L608.7,922.7 L606.2,922.9 L603.7,923.0 L601.2,923.1 L598.7,923.3 L596.2,923.4 L593.7,923.6 L591.2,923.7 L588.7,923.9 L586.2,924.0 L583.7,924.2 L581.2,924.3 L578.6,924.5 L576.1,924.6 L573.6,924.8 L571.1,924.9 L568.6,925.1 L566.1,925.3 L563.6,925.4 L561.1,925.6 L558.6,925.8 L556.1,925.9 L553.6,926.1 L551.1,926.3 L548.6,926.5 L546.1,926.6 L543.6,926.8 L541.1,927.0 L538.6,927.2 L536.1,927.4 L533.6,927.6 L531.0,927.7 L528.5,927.9 L526.0,928.1 L523.5,928.3 L521.0,928.5 L518.5,928.7 L516.0,928.9 L513.5,929.1 L511.0,929.3 L508.5,929.5 L506.0,929.7 L503.5,929.9 L501.0,930.1 L498.5,930.3 L496.0,930.5 L493.5,930.7 L491.0,930.9 L488.5,931.1 L485.9,931.3 L483.4,931.5 L480.9,931.7 L478.4,932.0 L475.9,932.2 L473.4,932.4 L470.9,932.6 L468.4,932.8 L465.9,933.0 L463.4,933.2 L460.9,933.4 L458.4,933.7 L455.9,933.9 L453.4,934.1 L450.9,934.3 L448.4,934.5 L445.9,934.7 L443.4,935.0 L440.9,935.2 L438.4,935.4 L435.9,935.6 L433.3,935.8 L430.8,936.1 L428.3,936.3 L425.8,936.5 L423.3,936.7 L420.8,936.9 L418.3,937.2 L415.8,937.4 L413.3,937.6 L410.8,937.8 L408.3,938.0 L405.8,938.3 L403.3,938.5 L400.8,938.7 L398.3,938.9 L395.8,939.2 L393.3,939.4 L390.8,939.6 L388.3,939.8 L385.8,940.0 L383.3,940.2 L380.8,940.5 L378.3,940.7 L375.8,940.9 L373.3,941.1 L370.8,941.3 L368.3,941.5 L365.8,941.8 L363.3,942.0 L360.8,942.2 L358.3,942.4 L355.8,942.6 L353.3,942.8 L350.8,943.0 L348.3,943.2 L345.8,943.5 L343.3,943.7 L340.8,943.9 L338.3,944.1 L335.8,944.3 L333.3,944.5 L330.8,944.7 L328.3,944.9 L325.8,945.1 L323.3,945.3 L320.8,945.5 L318.3,945.7 L315.8,945.9 L313.3,946.1 L310.8,946.3 L308.3,946.5 L305.8,946.7 L303.3,946.9 L300.8,947.1 L298.3,947.2 L295.8,947.4 L293.4,947.6 L290.9,947.8 L288.4,948.0 L285.9,948.2 L283.4,948.3 L280.9,948.5 L278.4,948.7 L275.9,948.9 L273.4,949.0 L270.9,949.2 L268.4,949.4 L265.9,949.6 L263.4,949.7 L261.0,949.9 L258.5,950.0 L256.0,950.2 L253.5,950.4 L251.0,950.5 L248.5,950.7 L246.0,950.8 L243.5,951.0 L241.0,951.1 L238.5,951.3 L236.1,951.4 L233.6,951.6 L231.1,951.7 L228.6,951.8 L226.1,952.0 L223.6,952.1 L221.1,952.2 L218.7,952.4 L216.2,952.5 L213.7,952.6 L211.2,952.7 L208.7,952.8 L206.2,953.0 L203.7,953.1 L201.3,953.2 L198.8,953.3 L196.3,953.4 L193.8,953.5 L191.3,953.6 L188.9,953.7 L186.4,953.8 L183.9,953.9 L181.4,954.0 L178.9,954.1 L176.5,954.1 L174.0,954.2 L171.5,954.3" fill="none" stroke="#ff0000" stroke-width="9" stroke-linejoin="round" stroke-linecap="butt"/>
<path d="M171.5,1118.7 L173.9,1118.1 L176.3,1117.4 L178.8,1116.8 L181.2,1116.2 L183.6,1115.6 L186.0,1114.9 L188.4,1114.3 L190.9,1113.7 L193.3,1113.1 L195.7,1112.6 L198.1,1112.0 L200.6,1111.4 L203.0,1110.8 L205.4,1110.2 L207.9,1109.7 L210.3,1109.1 L212.7,1108.6 L215.2,1108.0 L217.6,1107.5 L220.1,1106.9 L222.5,1106.4 L224.9,1105.9 L227.4,1105.3 L229.8,1104.8 L232.3,1104.3 L234.7,1103.8 L237.2,1103.3 L239.6,1102.8 L242.1,1102.3 L244.5,1101.8 L247.0,1101.3 L249.4,1100.8 L251.9,1100.3 L254.3,1099.9 L256.8,1099.4 L259.3,1098.9 L261.7,1098.5 L264.2,1098.0 L266.6,1097.6 L269.1,1097.1 L271.6,1096.7 L274.0,1096.2 L276.5,1095.8 L279.0,1095.4 L281.4,1094.9 L283.9,1094.5 L286.4,1094.1 L288.8,1093.7 L291.3,1093.2 L293.8,1092.8 L296.2,1092.4 L298.7,1092.0 L301.2,1091.6 L303.6,1091.2 L306.1,1090.8 L308.6,1090.4 L311.1,1090.1 L313.5,1089.7 L316.0,1089.3 L318.5,1088.9 L321.0,1088.6 L323.5,1088.2 L325.9,1087.8 L328.4,1087.5 L330.9,1087.1 L333.4,1086.7 L335.9,1086.4 L338.3,1086.0 L340.8,1085.7 L343.3,1085.3 L345.8,1085.0 L348.3,1084.7 L350.8,1084.3 L353.2,1084.0 L355.7,1083.7 L358.2,1083.3 L360.7,1083.0 L363.2,1082.7 L365.7,1082.4 L368.2,1082.1 L370.6,1081.7 L373.1,1081.4 L375.6,1081.1 L378.1,1080.8 L380.6,1080.5 L383.1,1080.2 L385.6,1079.9 L388.1,1079.6 L390.6,1079.3 L393.1,1079.0 L395.5,1078.7 L398.0,1078.4 L400.5,1078.2 L403.0,1077.9 L405.5,1077.6 L408.0,1077.3 L410.5,1077.0 L413.0,1076.7 L415.5,1076.5 L418.0,1076.2 L420.5,1075.9 L423.0,1075.7 L425.5,1075.4 L428.0,1075.1 L430.5,1074.9 L432.9,1074.6 L435.4,1074.3 L437.9,1074.1 L440.4,1073.8 L442.9,1073.5 L445.4,1073.3 L447.9,1073.0 L450.4,1072.8 L452.9,1072.5 L455.4,1072.3 L457.9,1072.0 L460.4,1071.8 L462.9,1071.5 L465.4,1071.3 L467.9,1071.0 L470.4,1070.8 L472.9,1070.5 L475.4,1070.3 L477.8,1070.1 L480.3,1069.8 L482.8,1069.6 L485.3,1069.3 L487.8,1069.1 L490.3,1068.8 L492.8,1068.6 L495.3,1068.4 L497.8,1068.1 L500.3,1067.9 L502.8,1067.7 L505.3,1067.4 L507.8,1067.2 L510.2,1067.0 L512.7,1066.7 L515.2,1066.5 L517.7,1066.2 L520.2,1066.0 L522.7,1065.8 L525.2,1065.6 L527.7,1065.3 L530.2,1065.1 L532.7,1064.9 L535.1,1064.6 L537.6,1064.4 L540.1,1064.2 L542.6,1063.9 L545.1,1063.7 L547.6,1063.5 L550.1,1063.3 L552.6,1063.0 L555.1,1062.8 L557.5,1062.6 L560.0,1062.4 L562.5,1062.1 L565.0,1061.9 L567.5,1061.7 L570.0,1061.5 L572.5,1061.3 L575.0,1061.0 L577.4,1060.8 L579.9,1060.6 L582.4,1060.4 L584.9,1060.2 L587.4,1060.0 L589.9,1059.8 L592.4,1059.5 L594.8,1059.3 L597.3,1059.1 L599.8,1058.9 L602.3,1058.7 L604.8,1058.5 L607.3,1058.3 L609.8,1058.1 L612.3,1057.9 L614.7,1057.7 L617.2,1057.5 L619.7,1057.3 L622.2,1057.1 L624.7,1056.9 L627.2,1056.7 L629.7,1056.5 L632.2,1056.3 L634.6,1056.1 L637.1,1055.9 L639.6,1055.7 L642.1,1055.6 L644.6,1055.4 L647.1,1055.2 L649.6,1055.0 L652.1,1054.8 L654.5,1054.6 L657.0,1054.5 L659.5,1054.3 L662.0,1054.1 L664.5,1053.9 L667.0,1053.7 L669.5,1053.6 L672.0,1053.4 L674.5,1053.2 L677.0,1053.1 L679.4,1052.9 L681.9,1052.7 L684.4,1052.6 L686.9,1052.4 L689.4,1052.2 L691.9,1052.1 L694.4,1051.9 L696.9,1051.8 L699.4,1051.6 L701.9,1051.5 L704.4,1051.3 L706.9,1051.2 L709.4,1051.0 L711.9,1050.9 L714.4,1050.7 L716.8,1050.6 L719.3,1050.4 L721.8,1050.3 L724.3,1050.2 L726.8,1050.0 L729.3,1049.9 L731.8,1049.8 L734.3,1049.6 L736.8,1049.5 L739.3,1049.4 L741.8,1049.2 L744.3,1049.1 L746.8,1049.0 L749.3,1048.9 L751.8,1048.8 L754.3,1048.7 L756.8,1048.5 L759.3,1048.4 L761.8,1048.3 L764.3,1048.2 L766.8,1048.1 L769.3,1048.0 L771.8,1047.9 L774.4,1047.8 L776.9,1047.7 L779.4,1047.6 L781.9,1047.5 L784.4,1047.4 L786.9,1047.3 L789.4,1047.3 L791.9,1047.2 L794.4,1047.1 L796.9,1047.0 L799.4,1046.9 L801.9,1046.9 L804.5,1046.8 L807.0,1046.7 L809.5,1046.7 L812.0,1046.6 L814.5,1046.5 L817.0,1046.5 L819.5,1046.4 L822.1,1046.4 L824.6,1046.3 L827.1,1046.2 L829.6,1046.2 L832.1,1046.1 L834.6,1046.1 L837.2,1046.1 L839.7,1046.0 L842.2,1046.0 L844.7,1045.9 L847.2,1045.9 L849.8,1045.8 L852.3,1045.8 L854.8,1045.8 L857.3,1045.7 L859.9,1045.7 L862.4,1045.6 L864.9,1045.6 L867.4,1045.5 L869.9,1045.5 L872.5,1045.5 L875.0,1045.4 L877.5,1045.4 L880.0,1045.3 L882.5,1045.3 L885.1,1045.2 L887.6,1045.2 L890.1,1045.1 L892.6,1045.0 L895.1,1045.0 L897.7,1044.9 L900.2,1044.9 L902.7,1044.8 L905.2,1044.7 L907.7,1044.6 L910.2,1044.6 L912.8,1044.5 L915.3,1044.4 L917.8,1044.3 L920.3,1044.2 L922.8,1044.1 L925.3,1044.0 L927.8,1043.9 L930.3,1043.8 L932.8,1043.7 L935.4,1043.5 L937.9,1043.4 L940.4,1043.3 L942.9,1043.1 L945.4,1043.0 L947.9,1042.8 L950.4,1042.7 L952.9,1042.5 L955.4,1042.4 L957.9,1042.2 L960.4,1042.0 L962.9,1041.8 L965.4,1041.6 L967.8,1041.4 L970.3,1041.2 L972.8,1041.0 L975.3,1040.8 L977.8,1040.5 L980.3,1040.3 L982.8,1040.0 L985.2,1039.8 L987.7,1039.5 L990.2,1039.2 L992.7,1038.9 L995.1,1038.7 L997.6,1038.3 L1000.1,1038.0 L1002.5,1037.7 L1005.0,1037.4 L1007.5,1037.0 L1009.9,1036.7 L1012.4,1036.3 L1014.9,1036.0 L1017.3,1035.6 L1019.8,1035.2 L1022.2,1034.8 L1024.7,1034.4 L1027.1,1034.0 L1029.6,1033.5 L1032.0,1033.1 L1034.4,1032.6 L1036.9,1032.1 L1039.3,1031.7 L1041.7,1031.2 L1044.2,1030.7 L1046.6,1030.1 L1049.0,1029.6 L1051.4,1029.1 L1053.9,1028.5 L1056.3,1027.9 L1058.7,1027.4 L1061.1,1026.8 L1063.5,1026.1 L1065.9,1025.5 L1068.3,1024.9 L1070.7,1024.2 L1073.1,1023.6 L1075.5,1022.9 L1077.9,1022.2 L1080.2,1021.5 L1082.6,1020.8 L1085.0,1020.1 L1087.4,1019.3 L1089.7,1018.5 L1092.1,1017.8 L1094.4,1017.0 L1096.8,1016.2 L1099.1,1015.4 L1101.5,1014.5 L1103.8,1013.7 L1106.2,1012.8 L1108.5,1011.9 L1110.8,1011.0 L1113.1,1010.1 L1115.4,1009.2 L1117.7,1008.3 L1120.0,1007.3 L1122.3,1006.3 L1124.6,1005.4 L1126.9,1004.4 L1129.2,1003.3 L1131.5,1002.3 L1133.7,1001.2 L1136.0,1000.2 L1138.2,999.1 L1140.5,998.0 L1142.7,996.9 L1145.0,995.7 L1147.2,994.6 L1149.4,993.4 L1151.6,992.2 L1153.8,991.0 L1156.0,989.8 L1158.2,988.6 L1160.4,987.3 L1162.6,986.1 L1164.8,984.8 L1166.9,983.6 L1169.1,982.3 L1171.3,981.0 L1173.5,979.7 L1175.6,978.4 L1177.8,977.2 L1180.0,975.9 L1182.2,974.6 L1184.3,973.4 L1186.5,972.1 L1188.7,970.9 L1190.9,969.6 L1193.1,968.4 L1195.3,967.2 L1197.5,966.1 L1199.7,964.9 L1202.0,963.8 L1204.2,962.7 L1206.4,961.6 L1208.7,960.5 L1211.0,959.5 L1213.2,958.5 L1215.5,957.6 L1217.9,956.6 L1220.2,955.7 L1222.5,954.9 L1224.9,954.1 L1227.2,953.3 L1229.6,952.6 L1232.0,951.9 L1234.4,951.2 L1236.8,950.6 L1239.2,950.0 L1241.6,949.5 L1244.1,948.9 L1246.5,948.5 L1249.0,948.0 L1251.4,947.6 L1253.9,947.2 L1256.3,946.8 L1258.8,946.5 L1261.2,946.2 L1263.7,945.9 L1266.1,945.7 L1268.6,945.5 L1271.1,945.3 L1273.5,945.1 L1276.0,945.0 L1278.5,944.9 L1281.0,944.8 L1283.4,944.8 L1285.9,944.7 L1288.4,944.7 L1290.9,944.7 L1293.4,944.7 L1295.8,944.8 L1298.3,944.9 L1300.8,944.9 L1303.3,945.1 L1305.8,945.2 L1308.3,945.3 L1310.8,945.5 L1313.3,945.6 L1315.8,945.8 L1318.3,946.0 L1320.8,946.2 L1323.3,946.5 L1325.8,946.7 L1328.3,946.9 L1330.8,947.2 L1333.3,947.5 L1335.8,947.7 L1338.3,948.0 L1340.8,948.3 L1343.3,948.6 L1345.8,948.9 L1348.3,949.2 L1350.8,949.6 L1353.3,949.9 L1355.8,950.2 L1358.3,950.5 L1360.8,950.8 L1363.3,951.2 L1365.8,951.5 L1368.3,951.8 L1370.8,952.2 L1373.3,952.5 L1375.8,952.8 L1378.4,953.1 L1380.9,953.5 L1383.4,953.8 L1385.9,954.1 L1388.4,954.4 L1390.9,954.7 L1393.4,955.0 L1395.9,955.3 L1398.4,955.6 L1400.9,955.9 L1403.4,956.2 L1405.9,956.4 L1408.4,956.7 L1410.9,957.0 L1413.4,957.3 L1415.9,957.5 L1418.4,957.8 L1420.9,958.1 L1423.4,958.3 L1425.9,958.6 L1428.4,958.8 L1430.9,959.1 L1433.4,959.3 L1435.9,959.5 L1438.4,959.8 L1440.9,960.0 L1443.4,960.2 L1445.9,960.5 L1448.4,960.7 L1450.9,960.9 L1453.4,961.1 L1455.9,961.3 L1458.4,961.5 L1460.9,961.7 L1463.4,961.9 L1465.9,962.1 L1468.4,962.3 L1470.9,962.5 L1473.4,962.7 L1475.9,962.9 L1478.4,963.1 L1480.9,963.3 L1483.4,963.4 L1485.9,963.6 L1488.4,963.8 L1490.9,964.0 L1493.4,964.1 L1495.9,964.3 L1498.4,964.4 L1500.9,964.6 L1503.4,964.8 L1505.9,964.9 L1508.4,965.1 L1510.9,965.2 L1513.4,965.3 L1515.9,965.5 L1518.4,965.6 L1520.9,965.8 L1523.4,965.9 L1525.9,966.0 L1528.4,966.2 L1530.9,966.3 L1533.4,966.4 L1535.9,966.5 L1538.4,966.6 L1540.9,966.8 L1543.4,966.9 L1545.8,967.0 L1548.3,967.1 L1550.8,967.2 L1553.3,967.3 L1555.8,967.4 L1558.3,967.5 L1560.8,967.6 L1563.3,967.7 L1565.8,967.8 L1568.3,967.9 L1570.8,968.0 L1573.3,968.1 L1575.8,968.2 L1578.3,968.2 L1580.8,968.3 L1583.3,968.4 L1585.8,968.5 L1588.3,968.5 L1590.8,968.6 L1593.3,968.7 L1595.8,968.8 L1598.3,968.8 L1600.8,968.9 L1603.2,969.0 L1605.7,969.0 L1608.2,969.1 L1610.7,969.1 L1613.2,969.2 L1615.7,969.3 L1618.2,969.3 L1620.7,969.4 L1623.2,969.4 L1625.7,969.5 L1628.2,969.5 L1630.7,969.6 L1633.2,969.6 L1635.7,969.6 L1638.2,969.7 L1640.7,969.7 L1643.2,969.8 L1645.7,969.8 L1648.2,969.8 L1650.7,969.9 L1653.2,969.9 L1655.7,969.9 L1658.2,970.0 L1660.7,970.0 L1663.2,970.0 L1665.7,970.0 L1668.2,970.1 L1670.6,970.1 L1673.1,970.1 L1675.6,970.1 L1678.1,970.2 L1680.6,970.2 L1683.1,970.2 L1685.6,970.2 L1688.1,970.2 L1690.6,970.3 L1693.1,970.3 L1695.6,970.3 L1698.1,970.3 L1700.6,970.3 L1703.1,970.3 L1705.6,970.3 L1708.1,970.4 L1710.6,970.4 L1713.1,970.4 L1715.6,970.4 L1718.1,970.4 L1720.6,970.4 L1723.1,970.4 L1725.6,970.4 L1728.1,970.4 L1730.6,970.4 L1733.1,970.4 L1735.6,970.4 L1738.1,970.4 L1740.6,970.4 L1743.1,970.4 L1745.6,970.4 L1748.1,970.5 L1750.6,970.5 L1753.1,970.5 L1755.6,970.5 L1758.1,970.5 L1760.6,970.5 L1763.1,970.5 L1765.7,970.5 L1768.2,970.5 L1770.7,970.5 L1773.2,970.5 L1775.7,970.5 L1778.2,970.5 L1780.7,970.5 L1783.2,970.5 L1785.7,970.5 L1788.2,970.5 L1790.7,970.5 L1793.2,970.5 L1795.7,970.5 L1798.2,970.5 L1800.7,970.5 L1803.2,970.5 L1805.7,970.5 L1808.2,970.5 L1810.8,970.5 L1813.3,970.5 L1815.8,970.5 L1818.3,970.5 L1820.8,970.5 L1823.3,970.5 L1825.8,970.5 L1828.3,970.5 L1830.8,970.5 L1833.3,970.5 L1835.8,970.5 L1838.4,970.5 L1840.9,970.5 L1843.4,970.5 L1845.9,970.5 L1848.4,970.5 L1850.9,970.5 L1853.4,970.5 L1855.9,970.6 L1858.5,970.6 L1861.0,970.6 L1863.5,970.6 L1866.0,970.6 L1869.0,972.0 L1867.5,977.0 L1864.0,979.0 L1861.8,980.2 L1859.6,981.5 L1857.4,982.7 L1855.1,983.8 L1852.9,985.0 L1850.6,986.1 L1848.4,987.2 L1846.1,988.2 L1843.8,989.3 L1841.5,990.3 L1839.2,991.3 L1836.9,992.3 L1834.6,993.2 L1832.3,994.1 L1830.0,995.0 L1827.6,995.9 L1825.3,996.8 L1823.0,997.6 L1820.6,998.5 L1818.2,999.3 L1815.9,1000.1 L1813.5,1000.8 L1811.1,1001.6 L1808.7,1002.3 L1806.4,1003.0 L1804.0,1003.7 L1801.6,1004.4 L1799.2,1005.1 L1796.7,1005.7 L1794.3,1006.4 L1791.9,1007.0 L1789.5,1007.6 L1787.1,1008.2 L1784.6,1008.8 L1782.2,1009.4 L1779.8,1010.0 L1777.3,1010.5 L1774.9,1011.1 L1772.4,1011.6 L1770.0,1012.2 L1767.5,1012.7 L1765.1,1013.2 L1762.6,1013.7 L1760.2,1014.2 L1757.7,1014.7 L1755.2,1015.2 L1752.8,1015.7 L1750.3,1016.2 L1747.9,1016.7 L1745.4,1017.1 L1742.9,1017.6 L1740.5,1018.1 L1738.0,1018.5 L1735.5,1019.0 L1733.1,1019.5 L1730.6,1019.9 L1728.1,1020.4 L1725.7,1020.8 L1723.2,1021.3 L1720.8,1021.8 L1718.3,1022.2 L1715.8,1022.7 L1713.4,1023.1 L1710.9,1023.5 L1708.4,1024.0 L1706.0,1024.4 L1703.5,1024.9 L1701.0,1025.3 L1698.6,1025.7 L1696.1,1026.2 L1693.7,1026.6 L1691.2,1027.0 L1688.7,1027.4 L1686.3,1027.9 L1683.8,1028.3 L1681.3,1028.7 L1678.9,1029.1 L1676.4,1029.6 L1673.9,1030.0 L1671.5,1030.4 L1669.0,1030.8 L1666.5,1031.2 L1664.1,1031.6 L1661.6,1032.0 L1659.1,1032.4 L1656.7,1032.8 L1654.2,1033.2 L1651.8,1033.6 L1649.3,1034.0 L1646.8,1034.4 L1644.4,1034.8 L1641.9,1035.2 L1639.4,1035.6 L1637.0,1036.0 L1634.5,1036.3 L1632.0,1036.7 L1629.5,1037.1 L1627.1,1037.5 L1624.6,1037.9 L1622.1,1038.2 L1619.7,1038.6 L1617.2,1039.0 L1614.7,1039.4 L1612.3,1039.7 L1609.8,1040.1 L1607.3,1040.5 L1604.9,1040.8 L1602.4,1041.2 L1599.9,1041.5 L1597.4,1041.9 L1595.0,1042.3 L1592.5,1042.6 L1590.0,1043.0 L1587.6,1043.3 L1585.1,1043.7 L1582.6,1044.0 L1580.1,1044.4 L1577.7,1044.7 L1575.2,1045.0 L1572.7,1045.4 L1570.2,1045.7 L1567.8,1046.1 L1565.3,1046.4 L1562.8,1046.7 L1560.3,1047.1 L1557.9,1047.4 L1555.4,1047.7 L1552.9,1048.1 L1550.4,1048.4 L1547.9,1048.7 L1545.5,1049.0 L1543.0,1049.3 L1540.5,1049.7 L1538.0,1050.0 L1535.5,1050.3 L1533.1,1050.6 L1530.6,1050.9 L1528.1,1051.2 L1525.6,1051.6 L1523.1,1051.9 L1520.6,1052.2 L1518.2,1052.5 L1515.7,1052.8 L1513.2,1053.1 L1510.7,1053.4 L1508.2,1053.7 L1505.7,1054.0 L1503.2,1054.3 L1500.8,1054.6 L1498.3,1054.9 L1495.8,1055.1 L1493.3,1055.4 L1490.8,1055.7 L1488.3,1056.0 L1485.8,1056.3 L1483.3,1056.6 L1480.8,1056.9 L1478.3,1057.1 L1475.8,1057.4 L1473.3,1057.7 L1470.8,1058.0 L1468.4,1058.3 L1465.9,1058.5 L1463.4,1058.8 L1460.9,1059.1 L1458.4,1059.3 L1455.9,1059.6 L1453.4,1059.9 L1450.9,1060.2 L1448.4,1060.4 L1445.9,1060.7 L1443.4,1061.0 L1440.9,1061.2 L1438.4,1061.5 L1435.9,1061.8 L1433.4,1062.1 L1430.9,1062.3 L1428.4,1062.6 L1425.9,1062.9 L1423.4,1063.2 L1420.9,1063.4 L1418.4,1063.7 L1415.9,1064.0 L1413.4,1064.3 L1410.9,1064.6 L1408.4,1064.9 L1405.9,1065.1 L1403.4,1065.4 L1400.9,1065.7 L1398.4,1066.0 L1395.9,1066.3 L1393.4,1066.6 L1390.9,1066.9 L1388.4,1067.2 L1386.0,1067.6 L1383.5,1067.9 L1381.0,1068.2 L1378.5,1068.5 L1376.0,1068.8 L1373.5,1069.2 L1371.0,1069.5 L1368.5,1069.8 L1366.1,1070.2 L1363.6,1070.5 L1361.1,1070.9 L1358.6,1071.2 L1356.1,1071.6 L1353.7,1072.0 L1351.2,1072.3 L1348.7,1072.7 L1346.2,1073.1 L1343.8,1073.5 L1341.3,1073.9 L1338.8,1074.3 L1336.4,1074.7 L1333.9,1075.1 L1331.4,1075.5 L1329.0,1075.9 L1326.5,1076.4 L1324.1,1076.8 L1321.6,1077.3 L1319.1,1077.7 L1316.7,1078.2 L1314.2,1078.6 L1311.8,1079.1 L1309.3,1079.6 L1306.9,1080.1 L1304.5,1080.6 L1302.0,1081.1 L1299.6,1081.6 L1297.1,1082.1 L1294.7,1082.6 L1292.3,1083.2 L1289.9,1083.7 L1287.4,1084.3 L1285.0,1084.8 L1282.6,1085.4 L1280.2,1086.0 L1277.7,1086.6 L1275.3,1087.2 L1272.9,1087.8 L1270.5,1088.4 L1268.1,1089.0 L1265.7,1089.7 L1263.3,1090.3 L1260.9,1091.0 L1258.5,1091.7 L1256.1,1092.3 L1253.7,1093.0 L1251.3,1093.7 L1249.0,1094.5 L1246.6,1095.2 L1244.2,1095.9 L1241.8,1096.7 L1239.5,1097.4 L1237.1,1098.2 L1234.7,1099.0 L1232.4,1099.8 L1230.0,1100.6 L1227.7,1101.4 L1225.3,1102.2 L1223.0,1103.1 L1220.6,1103.9 L1218.3,1104.8 L1215.9,1105.7 L1213.6,1106.6 L1211.3,1107.5 L1208.9,1108.4 L1206.6,1109.3 L1204.3,1110.3 L1202.0,1111.2 L1199.7,1112.2 L1197.4,1113.2 L1195.1,1114.2 L1192.8,1115.2 L1190.5,1116.2 L1188.2,1117.3 L1185.9,1118.3 L1183.6,1119.4 L1181.4,1120.5 L1179.1,1121.6 L1176.8,1122.7 L1174.5,1123.8 L1172.3,1125.0 L1170.0,1126.1 L1167.8,1127.3 L1165.5,1128.5 L1163.3,1129.7 L1161.0,1130.9 L1158.8,1132.1 L1156.5,1133.3 L1154.3,1134.5 L1152.0,1135.7 L1149.8,1136.9 L1147.6,1138.1 L1145.3,1139.3 L1143.1,1140.5 L1140.9,1141.7 L1138.6,1142.8 L1136.4,1144.0 L1134.1,1145.2 L1131.9,1146.4 L1129.6,1147.5 L1127.4,1148.7 L1125.2,1149.8 L1122.9,1150.9 L1120.7,1152.0 L1118.4,1153.1 L1116.1,1154.2 L1113.9,1155.2 L1111.6,1156.3 L1109.3,1157.3 L1107.1,1158.3 L1104.8,1159.2 L1102.5,1160.2 L1100.2,1161.1 L1097.9,1162.0 L1095.6,1162.8 L1093.3,1163.7 L1091.0,1164.5 L1088.7,1165.3 L1086.4,1166.0 L1084.0,1166.7 L1081.7,1167.4 L1079.3,1168.0 L1077.0,1168.6 L1074.6,1169.2 L1072.3,1169.7 L1069.9,1170.1 L1067.5,1170.6 L1065.1,1171.0 L1062.7,1171.3 L1060.3,1171.6 L1057.9,1171.9 L1055.4,1172.2 L1053.0,1172.4 L1050.6,1172.5 L1048.1,1172.7 L1045.7,1172.8 L1043.2,1172.9 L1040.7,1172.9 L1038.3,1172.9 L1035.8,1172.9 L1033.3,1172.9 L1030.8,1172.8 L1028.4,1172.7 L1025.9,1172.6 L1023.4,1172.5 L1020.9,1172.4 L1018.4,1172.2 L1015.9,1172.0 L1013.4,1171.8 L1010.9,1171.6 L1008.5,1171.4 L1006.0,1171.1 L1003.5,1170.8 L1001.0,1170.6 L998.5,1170.3 L996.0,1170.0 L993.5,1169.7 L991.0,1169.4 L988.5,1169.1 L986.0,1168.7 L983.5,1168.4 L981.1,1168.0 L978.6,1167.7 L976.1,1167.3 L973.6,1166.9 L971.1,1166.6 L968.6,1166.2 L966.1,1165.8 L963.6,1165.4 L961.2,1165.0 L958.7,1164.6 L956.2,1164.2 L953.7,1163.8 L951.2,1163.3 L948.7,1162.9 L946.2,1162.5 L943.7,1162.1 L941.3,1161.7 L938.8,1161.3 L936.3,1160.8 L933.8,1160.4 L931.3,1160.0 L928.8,1159.6 L926.3,1159.2 L923.9,1158.7 L921.4,1158.3 L918.9,1157.9 L916.4,1157.5 L913.9,1157.1 L911.4,1156.7 L908.9,1156.3 L906.4,1156.0 L904.0,1155.6 L901.5,1155.2 L899.0,1154.8 L896.5,1154.5 L894.0,1154.1 L891.5,1153.8 L889.0,1153.5 L886.5,1153.1 L884.0,1152.8 L881.5,1152.5 L879.1,1152.2 L876.6,1151.9 L874.1,1151.6 L871.6,1151.3 L869.1,1151.0 L866.6,1150.8 L864.1,1150.5 L861.6,1150.2 L859.1,1150.0 L856.6,1149.7 L854.1,1149.5 L851.6,1149.2 L849.1,1149.0 L846.7,1148.8 L844.2,1148.6 L841.7,1148.4 L839.2,1148.1 L836.7,1147.9 L834.2,1147.7 L831.7,1147.6 L829.2,1147.4 L826.7,1147.2 L824.2,1147.0 L821.7,1146.9 L819.2,1146.7 L816.7,1146.5 L814.2,1146.4 L811.7,1146.2 L809.2,1146.1 L806.7,1146.0 L804.2,1145.8 L801.7,1145.7 L799.2,1145.6 L796.7,1145.5 L794.2,1145.3 L791.7,1145.2 L789.2,1145.1 L786.7,1145.0 L784.2,1144.9 L781.7,1144.9 L779.2,1144.8 L776.7,1144.7 L774.2,1144.6 L771.7,1144.5 L769.2,1144.5 L766.7,1144.4 L764.2,1144.4 L761.7,1144.3 L759.2,1144.3 L756.7,1144.2 L754.2,1144.2 L751.7,1144.1 L749.2,1144.1 L746.7,1144.1 L744.2,1144.0 L741.7,1144.0 L739.2,1144.0 L736.7,1144.0 L734.2,1144.0 L731.7,1144.0 L729.2,1143.9 L726.7,1143.9 L724.2,1143.9 L721.7,1143.9 L719.2,1144.0 L716.7,1144.0 L714.2,1144.0 L711.7,1144.0 L709.2,1144.0 L706.7,1144.0 L704.2,1144.1 L701.7,1144.1 L699.2,1144.1 L696.7,1144.1 L694.2,1144.2 L691.7,1144.2 L689.2,1144.3 L686.7,1144.3 L684.2,1144.3 L681.7,1144.4 L679.2,1144.4 L676.7,1144.5 L674.2,1144.5 L671.7,1144.6 L669.2,1144.6 L666.7,1144.7 L664.2,1144.8 L661.7,1144.8 L659.2,1144.9 L656.7,1145.0 L654.2,1145.0 L651.7,1145.1 L649.1,1145.2 L646.6,1145.2 L644.1,1145.3 L641.6,1145.4 L639.1,1145.5 L636.6,1145.5 L634.1,1145.6 L631.6,1145.7 L629.1,1145.8 L626.6,1145.9 L624.1,1145.9 L621.6,1146.0 L619.1,1146.1 L616.6,1146.2 L614.1,1146.3 L611.6,1146.4 L609.1,1146.5 L606.6,1146.5 L604.1,1146.6 L601.6,1146.7 L599.1,1146.8 L596.6,1146.9 L594.1,1147.0 L591.6,1147.1 L589.1,1147.2 L586.6,1147.3 L584.1,1147.3 L581.6,1147.4 L579.0,1147.5 L576.5,1147.6 L574.0,1147.7 L571.5,1147.8 L569.0,1147.9 L566.5,1148.0 L564.0,1148.1 L561.5,1148.1 L559.0,1148.2 L556.5,1148.3 L554.0,1148.4 L551.5,1148.5 L549.0,1148.6 L546.5,1148.7 L544.0,1148.8 L541.5,1148.8 L539.0,1148.9 L536.5,1149.0 L534.0,1149.1 L531.5,1149.2 L529.0,1149.3 L526.5,1149.3 L524.0,1149.4 L521.5,1149.5 L519.0,1149.6 L516.5,1149.7 L514.0,1149.8 L511.5,1149.9 L509.0,1149.9 L506.5,1150.0 L504.0,1150.1 L501.5,1150.2 L499.0,1150.3 L496.5,1150.4 L494.0,1150.4 L491.5,1150.5 L489.0,1150.6 L486.5,1150.7 L484.0,1150.8 L481.5,1150.9 L479.0,1150.9 L476.5,1151.0 L474.0,1151.1 L471.5,1151.2 L468.9,1151.3 L466.4,1151.4 L463.9,1151.5 L461.4,1151.5 L458.9,1151.6 L456.4,1151.7 L453.9,1151.8 L451.4,1151.9 L448.9,1152.0 L446.4,1152.1 L443.9,1152.1 L441.4,1152.2 L438.9,1152.3 L436.4,1152.4 L433.9,1152.5 L431.4,1152.6 L428.9,1152.7 L426.4,1152.8 L423.9,1152.9 L421.4,1152.9 L418.9,1153.0 L416.4,1153.1 L413.9,1153.2 L411.4,1153.3 L408.9,1153.4 L406.4,1153.5 L403.9,1153.6 L401.4,1153.7 L398.9,1153.8 L396.4,1153.9 L393.9,1154.0 L391.4,1154.1 L388.9,1154.2 L386.4,1154.3 L383.9,1154.4 L381.4,1154.4 L378.9,1154.5 L376.4,1154.6 L373.9,1154.7 L371.4,1154.8 L368.9,1154.9 L366.4,1155.0 L363.9,1155.2 L361.4,1155.3 L358.9,1155.4 L356.4,1155.5 L353.9,1155.6 L351.4,1155.7 L348.9,1155.8 L346.4,1155.9 L343.9,1156.0 L341.4,1156.1 L338.9,1156.2 L336.4,1156.3 L333.9,1156.4 L331.4,1156.5 L328.9,1156.7 L326.4,1156.8 L323.9,1156.9 L321.4,1157.0 L318.9,1157.1 L316.4,1157.2 L313.9,1157.4 L311.4,1157.5 L308.9,1157.6 L306.4,1157.7 L303.9,1157.8 L301.4,1158.0 L298.9,1158.1 L296.4,1158.2 L293.9,1158.3 L291.4,1158.5 L288.9,1158.6 L286.4,1158.7 L283.9,1158.8 L281.4,1159.0 L278.9,1159.1 L276.4,1159.2 L273.9,1159.4 L271.5,1159.5 L269.0,1159.7 L266.5,1159.8 L264.0,1159.9 L261.5,1160.1 L259.0,1160.2 L256.5,1160.4 L254.0,1160.5 L251.5,1160.6 L249.0,1160.8 L246.5,1160.9 L244.0,1161.1 L241.5,1161.2 L239.0,1161.4 L236.5,1161.5 L234.0,1161.7 L231.5,1161.8 L229.0,1162.0 L226.5,1162.2 L224.0,1162.3 L221.5,1162.5 L219.0,1162.6 L216.5,1162.8 L214.0,1163.0 L211.5,1163.1 L209.0,1163.3 L206.5,1163.5 L204.0,1163.6 L201.5,1163.8 L199.0,1164.0 L196.5,1164.2 L194.0,1164.3 L191.5,1164.5 L189.0,1164.7 L186.5,1164.9 L184.0,1165.1 L181.5,1165.2 L179.0,1165.4 L176.5,1165.6 L174.0,1165.8 L171.5,1166.0" fill="none" stroke="#000000" stroke-width="9" stroke-linejoin="round" stroke-linecap="butt"/>
</g>
<g font-size="75">
<text x="201" y="228.5" fill="#0000ff" textLength="810.5" lengthAdjust="spacingAndGlyphs">Cu-TCPP/Graphene/GCE</text>
<text x="198" y="570.5" fill="#007f00" textLength="485" lengthAdjust="spacingAndGlyphs">Graphene/GCE</text>
<text x="201" y="833" fill="#ff0000" textLength="480.5" lengthAdjust="spacingAndGlyphs">Cu-TCPP/GCE</text>
<text x="233" y="1062.5" fill="#000" textLength="157.5" lengthAdjust="spacingAndGlyphs">GCE</text>
</g>
<g font-size="81" fill="#000" text-anchor="middle">
<text x="171.5" y="1361">-0.2</text>
<text x="455" y="1361">-0.1</text>
<text x="739.5" y="1361">0.0</text>
<text x="1020" y="1361">0.1</text>
<text x="1303.5" y="1361">0.2</text>
<text x="1587" y="1361">0.3</text>
<text x="1871" y="1361">0.4</text>
</g>
<text transform="translate(904,1468) skewX(-3) scale(1.07,0.97)" font-size="105" fill="#000" font-style="italic">E</text>
<text x="976.5" y="1468.5" font-size="103" fill="#000" xml:space="preserve"> / V</text>
<g transform="translate(92,786) rotate(-90)" fill="#000">
<text transform="skewX(-6)" font-size="110" font-style="italic">I</text>
<text x="73.3" font-size="110" style="font-weight:normal">/</text>
<text x="135.3" font-size="99">μ</text>
<text x="191.5" font-size="110" style="font-weight:normal">A</text>
</g>
</svg>
</body></html>
